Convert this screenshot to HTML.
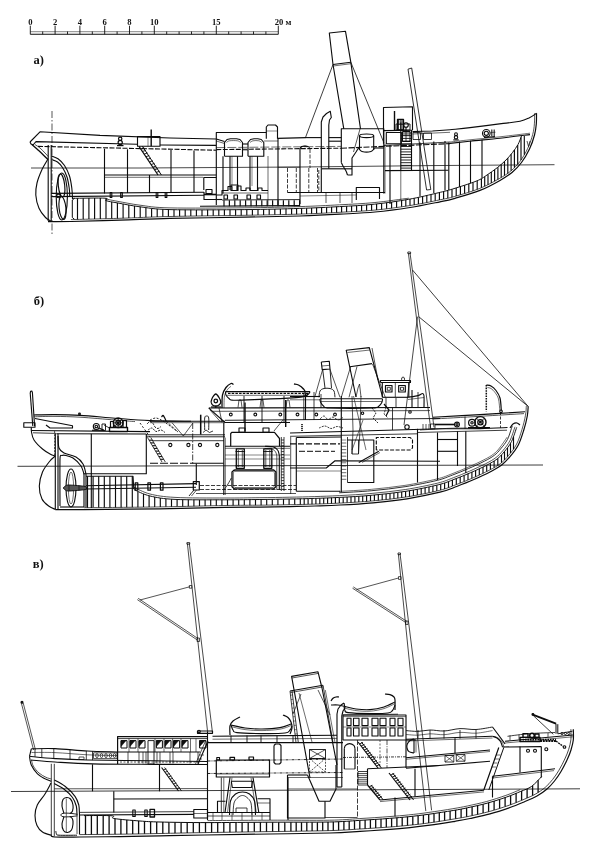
<!DOCTYPE html>
<html lang="ru"><head><meta charset="utf-8"><title>ships</title>
<style>html,body{margin:0;padding:0;background:#fff;}svg{display:block}text{filter:grayscale(1)}</style></head>
<body><svg width="600" height="861" viewBox="0 0 600 861">
<rect x="0" y="0" width="600" height="861" fill="#fff"/>
<g fill="none" stroke="#0c0c0c" stroke-width="1.12" stroke-linecap="butt" stroke-linejoin="round">
<path d="M30.3 34.3L278.3 34.3" stroke-width="1.1"/>
<path d="M30.3 31.7L278.3 31.7" stroke-width="0.5"/>
<path d="M30.3 25.7L30.3 34.3" stroke-width="0.9"/>
<path d="M42.7 31.5L42.7 34.3" stroke-width="0.9"/>
<path d="M55.1 25.7L55.1 34.3" stroke-width="0.9"/>
<path d="M67.5 31.5L67.5 34.3" stroke-width="0.9"/>
<path d="M79.9 25.7L79.9 34.3" stroke-width="0.9"/>
<path d="M92.3 31.5L92.3 34.3" stroke-width="0.9"/>
<path d="M104.7 25.7L104.7 34.3" stroke-width="0.9"/>
<path d="M117.1 31.5L117.1 34.3" stroke-width="0.9"/>
<path d="M129.5 25.7L129.5 34.3" stroke-width="0.9"/>
<path d="M141.9 31.5L141.9 34.3" stroke-width="0.9"/>
<path d="M154.3 25.7L154.3 34.3" stroke-width="0.9"/>
<path d="M166.7 31.5L166.7 34.3" stroke-width="0.9"/>
<path d="M179.1 31.5L179.1 34.3" stroke-width="0.9"/>
<path d="M191.5 31.5L191.5 34.3" stroke-width="0.9"/>
<path d="M203.9 31.5L203.9 34.3" stroke-width="0.9"/>
<path d="M216.3 25.7L216.3 34.3" stroke-width="0.9"/>
<path d="M228.7 31.5L228.7 34.3" stroke-width="0.9"/>
<path d="M241.1 31.5L241.1 34.3" stroke-width="0.9"/>
<path d="M253.5 31.5L253.5 34.3" stroke-width="0.9"/>
<path d="M265.9 31.5L265.9 34.3" stroke-width="0.9"/>
<path d="M278.3 25.7L278.3 34.3" stroke-width="0.9"/>
<text x="30.3" y="25.3" font-family="Liberation Serif, serif" font-size="8.6" font-weight="bold" text-anchor="middle" fill="#111" stroke="none" opacity="0.999">0</text>
<text x="55.1" y="25.3" font-family="Liberation Serif, serif" font-size="8.6" font-weight="bold" text-anchor="middle" fill="#111" stroke="none" opacity="0.999">2</text>
<text x="79.9" y="25.3" font-family="Liberation Serif, serif" font-size="8.6" font-weight="bold" text-anchor="middle" fill="#111" stroke="none" opacity="0.999">4</text>
<text x="104.7" y="25.3" font-family="Liberation Serif, serif" font-size="8.6" font-weight="bold" text-anchor="middle" fill="#111" stroke="none" opacity="0.999">6</text>
<text x="129.5" y="25.3" font-family="Liberation Serif, serif" font-size="8.6" font-weight="bold" text-anchor="middle" fill="#111" stroke="none" opacity="0.999">8</text>
<text x="154.3" y="25.3" font-family="Liberation Serif, serif" font-size="8.6" font-weight="bold" text-anchor="middle" fill="#111" stroke="none" opacity="0.999">10</text>
<text x="216.3" y="25.3" font-family="Liberation Serif, serif" font-size="8.6" font-weight="bold" text-anchor="middle" fill="#111" stroke="none" opacity="0.999">15</text>
<text x="274.8" y="25.3" font-family="Liberation Serif, serif" font-size="8.6" font-weight="bold" text-anchor="start" fill="#111" stroke="none" opacity="0.999">20 м</text>
<text x="38.6" y="63.6" font-family="Liberation Serif, serif" font-size="12.5" font-weight="bold" text-anchor="middle" fill="#111" stroke="none" opacity="0.999">а)</text>
<text x="39" y="304.7" font-family="Liberation Serif, serif" font-size="12.5" font-weight="bold" text-anchor="middle" fill="#111" stroke="none" opacity="0.999">б)</text>
<text x="38.2" y="568.1" font-family="Liberation Serif, serif" font-size="12.5" font-weight="bold" text-anchor="middle" fill="#111" stroke="none" opacity="0.999">в)</text>
<path d="M52.0 111.0L52.0 236.0" stroke-width="0.7" stroke-dasharray="7 2 1.5 2"/>
<path d="M31.0 168.0L140.0 168.0L300.0 167.0L430.0 165.6L554.5 164.7" stroke-width="0.75"/>
<path d="M30.0 142.0L40.0 131.8L100.0 135.4L170.0 138.0L216.0 139.0"/>
<path d="M30.0 142.0L31.0 144.0L33.0 145.0"/>
<path d="M33.0 145.0L36.0 141.6L137.0 144.2"/>
<path d="M160.0 145.0L216.0 145.4"/>
<path d="M38.0 146.4L216.0 150.2" stroke-dasharray="5 1.5"/>
<path d="M32.0 144.5C32.8 145.2 35.1 147.2 37.0 149.0C38.9 150.8 41.5 153.2 43.3 155.0C45.1 156.8 47.2 158.8 48.0 159.5" stroke-width="1.3"/>
<path d="M35.0 144.5C35.8 145.1 38.3 146.6 40.0 148.0C41.7 149.4 43.6 151.6 45.0 153.0C46.4 154.4 47.7 155.9 48.2 156.5" stroke-width="0.7"/>
<path d="M48.2 145.0L48.2 221.0"/>
<path d="M51.2 145.0L51.2 221.0"/>
<path d="M48.0 159.0C47.0 160.8 43.8 165.5 42.0 169.5C40.2 173.5 38.0 178.8 37.0 183.0C36.0 187.2 35.5 190.8 35.8 195.0C36.1 199.2 37.4 204.6 39.0 208.3C40.6 212.1 43.5 215.4 45.5 217.5C47.5 219.6 49.9 220.4 50.8 221.0"/>
<path d="M51.5 159.5C52.5 159.9 55.7 160.7 57.5 162.0C59.3 163.3 60.9 165.0 62.5 167.5C64.1 170.0 65.9 173.6 67.0 177.0C68.1 180.4 68.7 184.7 69.2 188.0C69.7 191.3 69.7 195.5 69.8 197.0"/>
<path d="M51.5 156.0C52.6 156.5 55.8 157.2 58.0 158.8C60.2 160.4 62.6 162.6 64.5 165.5C66.4 168.4 68.3 172.2 69.5 176.0C70.7 179.8 71.3 184.2 71.8 188.0C72.3 191.8 72.4 197.2 72.5 199.0"/>
<ellipse cx="61.8" cy="196.5" rx="5.6" ry="23.5"/>
<ellipse cx="61.5" cy="185.5" rx="3.2" ry="11.5" transform="rotate(-6 61.5 185.5)"/>
<ellipse cx="62.5" cy="208" rx="3.4" ry="11.5" transform="rotate(-6 62.5 208)"/>
<ellipse cx="58.5" cy="196" rx="1.8" ry="1.8"/>
<path d="M51.2 193.4L204.0 192.2"/>
<path d="M51.2 196.6L204.0 195.2"/>
<path d="M110.2 192.5L111.8 192.5L111.8 197.5L110.2 197.5Z"/>
<path d="M120.7 192.5L122.3 192.5L122.3 197.5L120.7 197.5Z"/>
<path d="M156.2 192.5L157.8 192.5L157.8 197.5L156.2 197.5Z"/>
<path d="M165.2 192.5L166.8 192.5L166.8 197.5L165.2 197.5Z"/>
<path d="M48.0 221.6C51.8 221.6 59.0 221.7 71.0 221.5C83.0 221.3 103.5 220.7 120.0 220.2C136.5 219.7 149.2 218.9 170.0 218.4C190.8 217.9 223.3 217.6 245.0 217.2C266.7 216.8 284.2 216.5 300.0 216.0C315.8 215.5 327.5 214.9 340.0 214.2C352.5 213.5 363.3 213.1 375.0 212.0C386.7 210.9 399.2 209.2 410.0 207.5C420.8 205.8 432.5 203.3 440.0 201.8C447.5 200.3 448.3 200.2 455.0 198.3C461.7 196.4 472.5 193.4 480.0 190.4C487.5 187.4 494.7 183.4 500.0 180.4C505.3 177.4 508.4 175.5 512.0 172.5C515.6 169.5 518.6 166.4 521.5 162.5C524.4 158.6 527.3 153.6 529.5 149.0C531.7 144.4 533.4 139.2 534.5 135.0C535.6 130.8 536.0 127.6 536.3 124.0C536.6 120.4 536.5 115.1 536.5 113.3" stroke-width="1.2"/>
<path d="M70.9 219.6C79.1 219.4 103.4 218.8 119.9 218.3C136.4 217.8 149.1 217.0 170.0 216.5C190.8 216.0 223.3 215.7 245.0 215.3C266.6 214.9 284.1 214.6 299.9 214.1C315.8 213.6 327.4 213.0 339.9 212.3C352.4 211.6 363.2 211.2 374.8 210.1C386.5 209.0 398.9 207.3 409.7 205.6C420.5 203.9 432.2 201.5 439.6 199.9C447.1 198.4 447.9 198.4 454.5 196.5C461.1 194.6 471.9 191.6 479.3 188.6C486.7 185.7 493.8 181.7 499.1 178.7C504.3 175.8 507.3 173.9 510.8 171.0C514.3 168.1 517.1 165.2 520.0 161.4C522.8 157.6 525.7 152.7 527.8 148.2C529.9 143.7 531.6 138.6 532.7 134.5C533.8 130.4 534.1 127.4 534.4 123.8C534.7 120.3 534.6 115.0 534.6 113.3" stroke-width="0.7"/>
<path d="M73.0 198.3C78.3 198.3 99.5 197.8 105.0 198.2C110.5 198.6 103.8 199.8 106.0 200.6C108.2 201.4 112.3 202.0 118.0 203.0C123.7 204.0 131.3 205.7 140.0 206.8C148.7 207.9 152.5 209.1 170.0 209.6C187.5 210.1 223.2 209.8 244.9 209.6C266.5 209.4 284.0 208.9 299.8 208.4C315.5 207.9 327.2 207.3 339.6 206.6C352.0 205.9 362.7 205.5 374.3 204.2C385.8 203.0 398.1 201.2 408.7 199.3C419.4 197.4 430.9 194.5 438.2 192.8C445.4 191.1 446.0 191.0 452.4 189.1C458.7 187.1 470.5 183.5 476.3 181.1C482.1 178.8 483.5 177.3 487.0 175.0C490.5 172.7 494.3 170.0 497.5 167.5C500.7 165.0 503.5 162.5 506.0 160.0C508.5 157.5 510.5 155.1 512.5 152.5C514.5 149.9 516.5 147.2 518.0 144.5C519.5 141.8 520.9 137.4 521.5 136.0" stroke-width="0.95"/>
<path d="M106.0 199.0C108.0 199.4 112.3 200.4 118.0 201.4C123.7 202.4 131.3 204.1 140.0 205.2C148.7 206.3 152.5 207.5 170.0 207.9C187.5 208.3 223.2 208.0 244.8 207.8C266.4 207.6 283.9 207.1 299.7 206.6C315.5 206.1 327.1 205.5 339.5 204.8C351.9 204.2 362.6 203.7 374.1 202.6C385.7 201.5 403.0 198.9 408.8 198.2" stroke-width="0.7"/>
<path d="M74.5 198.3L72.3 200.0L72.3 217.5L74.5 219.3" stroke-width="1.0"/>
<path d="M77.5 198.3V219.4M83.2 198.2V219.3M88.9 198.1V219.1M94.6 198.1V219.0M100.3 198.1V218.9M106.0 198.3V218.7M111.7 201.9V218.5M117.4 202.9V218.4M123.1 204.0V218.2M128.8 205.0V218.0M134.5 206.0V217.8M140.2 206.8V217.5M145.9 207.6V217.3M151.6 208.4V217.1M157.2 209.0V216.9M162.8 209.3V216.7M168.4 209.6V216.5M174.0 209.7V216.4M179.6 209.8V216.3M185.2 209.8V216.2M190.8 209.8V216.1M196.4 209.9V216.0M202.0 209.9V215.9M207.6 209.8V215.9M213.2 209.8V215.8M218.8 209.8V215.7M224.4 209.8V215.6M230.0 209.7V215.5M235.6 209.7V215.5M241.2 209.6V215.4M246.8 209.6V215.3M252.4 209.5V215.2M258.0 209.4V215.1M263.6 209.3V215.0M269.2 209.2V214.8M274.8 209.1V214.7M280.4 209.0V214.6M286.0 208.8V214.5M291.6 208.7V214.3M296.6 208.5V214.2M301.6 208.3V214.0M306.6 208.2V213.9M311.6 208.0V213.7M316.6 207.8V213.5M321.6 207.5V213.2M326.6 207.3V213.0M331.6 207.0V212.7M336.6 206.8V212.5M341.6 206.5V212.2M346.6 206.2V212.0M351.6 206.0V211.7M356.6 205.7V211.4M361.6 205.3V211.1M366.6 205.0V210.8M371.6 204.5V210.4M376.6 204.0V209.9M381.6 203.4V209.4M386.6 202.8V208.8M391.6 202.1V208.2M396.6 201.3V207.5M401.6 200.5V206.8M405.8 199.8V206.2M410.0 199.1V205.6M414.2 198.2V204.9M418.4 197.4V204.1M422.6 196.4V203.4M426.8 195.5V202.5M431.0 194.5V201.7M435.2 193.5V200.8M439.4 192.5V200.0M443.6 191.5V199.1M447.8 190.4V198.2M452.0 189.2V197.2M456.2 187.9V196.0M460.4 186.6V194.8M464.6 185.2V193.6M468.8 183.8V192.3M473.0 182.4V190.9M477.2 180.7V189.4M481.4 178.7V187.8M484.7 176.5V186.3M488.0 174.4V184.7M491.3 172.1V183.0M494.6 169.7V181.2M497.9 167.2V179.4M501.2 164.4V177.5M504.5 161.5V175.6M507.8 158.1V173.4M511.1 154.3V170.8M514.4 150.0V167.8M517.7 145.0V164.2M521.0 137.3V159.9M524.3 136.0V154.8" stroke-width="1.15"/>
<path d="M104.5 148.7L104.5 193.5"/>
<path d="M127.5 149.3L127.5 193.0"/>
<path d="M149.5 175.0L149.5 193.0"/>
<path d="M171.0 150.0L171.0 192.5"/>
<path d="M194.0 150.5L194.0 192.3"/>
<path d="M104.5 175.0L216.0 175.0"/>
<path d="M104.5 177.3L203.0 177.3" stroke-width="0.6"/>
<path d="M139.0 146.3L158.0 175.0" stroke-width="1.2"/>
<path d="M142.4 146.3L161.4 175.0" stroke-width="1.0"/>
<path d="M140.7 148.9L144.1 147.7" stroke-width="0.9"/>
<path d="M142.5 151.5L145.9 150.3" stroke-width="0.9"/>
<path d="M144.2 154.1L147.6 152.9" stroke-width="0.9"/>
<path d="M145.9 156.7L149.3 155.5" stroke-width="0.9"/>
<path d="M147.6 159.3L151.0 158.1" stroke-width="0.9"/>
<path d="M149.4 162.0L152.8 160.8" stroke-width="0.9"/>
<path d="M151.1 164.6L154.5 163.4" stroke-width="0.9"/>
<path d="M152.8 167.2L156.2 166.0" stroke-width="0.9"/>
<path d="M154.5 169.8L157.9 168.6" stroke-width="0.9"/>
<path d="M156.3 172.4L159.7 171.2" stroke-width="0.9"/>
<path d="M137.5 136.6L160.0 136.6L160.0 146.3L137.5 146.3Z"/>
<path d="M151.2 129.6L151.2 146.3" stroke-width="1.4"/>
<path d="M148.0 136.6L148.0 146.3" stroke-width="0.5"/>
<ellipse cx="120.2" cy="138.8" rx="1.7" ry="1.7" stroke-width="1.2"/>
<ellipse cx="120.2" cy="142.4" rx="2.1" ry="2.1" stroke-width="1.2"/>
<path d="M117.0 145.6L123.5 145.6" stroke-width="1.2"/>
<path d="M216.3 205.0L216.3 132.5L266.3 132.5"/>
<path d="M266.3 138.8L266.3 127.0L268.0 125.0L275.5 125.0L277.5 127.0L277.5 138.8"/>
<path d="M266.3 131.0L277.5 131.0" stroke-width="0.5"/>
<path d="M277.5 138.4L306.0 137.6"/>
<path d="M306.0 137.6L321.3 137.6"/>
<path d="M216.3 139.0L224.5 141.5"/>
<path d="M216.3 141.0L224.5 143.5" stroke-width="0.6"/>
<path d="M216.3 149.6L341.0 148.2" stroke-dasharray="5 1.5"/>
<path d="M216.3 147.6L341.0 146.4" stroke-width="0.6" stroke-dasharray="9 2"/>
<path d="M224.5 156.3L224.5 142.5L227.0 139.5L230.5 138.8L236.5 138.8L240.0 139.5L242.5 142.5L242.5 156.3L224.5 156.3"/>
<path d="M226.5 142.5C227.0 142.2 227.7 141.1 229.5 140.8C231.3 140.5 235.7 140.5 237.5 140.8C239.3 141.1 240.0 142.2 240.5 142.5" stroke-width="0.6"/>
<path d="M248.0 156.3L248.0 142.5L250.5 139.5L254.0 138.8L257.8 138.8L261.3 139.5L263.8 142.5L263.8 156.3L248.0 156.3"/>
<path d="M250.0 142.5C250.5 142.2 251.5 141.1 253.0 140.8C254.5 140.5 257.3 140.5 258.8 140.8C260.3 141.1 261.3 142.2 261.8 142.5" stroke-width="0.6"/>
<path d="M242.5 144.0L248.0 144.0"/>
<path d="M242.5 150.0L248.0 150.0" stroke-width="0.6"/>
<path d="M263.8 141.0L278.0 141.0" stroke-width="0.6"/>
<path d="M230.0 156.3L230.0 190.0"/>
<path d="M237.5 156.3L237.5 190.0"/>
<path d="M232.0 156.3L232.0 186.0" stroke-width="0.5"/>
<path d="M250.0 156.3L250.0 190.0"/>
<path d="M257.5 156.3L257.5 190.0"/>
<path d="M252.0 156.3L252.0 186.0" stroke-width="0.5"/>
<path d="M216.3 195.0L222.0 195.0L222.0 190.5L228.0 190.5L228.0 186.5L232.0 186.5L232.0 190.5L237.0 190.5L237.0 186.0L241.0 186.0L241.0 190.5L246.0 190.5L246.0 188.0L250.0 188.0L250.0 190.5L258.0 190.5L258.0 188.0L262.0 188.0L262.0 190.5L268.0 190.5"/>
<path d="M222.0 193.0L268.0 193.0" stroke-width="0.6"/>
<path d="M231.0 185.0L238.0 185.0L238.0 190.5L231.0 190.5Z"/>
<path d="M224.0 195.0L227.5 195.0L227.5 199.0L224.0 199.0Z"/>
<path d="M234.0 195.0L237.5 195.0L237.5 199.0L234.0 199.0Z"/>
<path d="M247.0 195.0L250.5 195.0L250.5 199.0L247.0 199.0Z"/>
<path d="M257.0 195.0L260.5 195.0L260.5 199.0L257.0 199.0Z"/>
<path d="M204.0 192.0L204.0 199.5L216.3 199.5"/>
<path d="M206.0 189.5L212.0 189.5L212.0 193.5L206.0 193.5Z"/>
<path d="M204.0 194.5L216.0 194.5" stroke-width="1.6"/>
<path d="M216.3 199.5L222.0 199.5"/>
<path d="M200.0 206.3L300.0 205.6"/>
<path d="M224.0 200.2V206.2M229.4 200.2V206.2M234.8 200.2V206.2M240.2 200.2V206.2M245.6 200.2V206.2M251.0 200.2V206.2M256.4 200.2V206.2M261.8 200.2V206.2M267.2 200.2V206.2M272.6 200.2V206.2M278.0 200.2V206.2M283.4 200.2V206.2M288.8 200.2V206.2M294.2 200.2V206.2M299.6 200.2V206.2" stroke-width="1.2"/>
<path d="M222.0 200.0L300.0 199.6" stroke-width="0.9"/>
<path d="M203.8 190.0L203.8 177.5L216.3 177.5"/>
<path d="M223.0 156.3L223.0 193.5"/>
<path d="M278.0 138.8L278.0 205.0"/>
<path d="M268.0 156.0L268.0 205.0" stroke-width="0.6"/>
<path d="M300.0 204.0L300.0 148.5L301.5 146.5L305.0 146.0L308.0 146.5"/>
<path d="M278.0 167.3L300.0 167.2" stroke-width="0.6"/>
<path d="M287.5 168.0L287.5 192.5" stroke-width="0.8" stroke-dasharray="4 1.5"/>
<path d="M296.3 168.0L296.3 192.5" stroke-width="0.8" stroke-dasharray="4 1.5"/>
<path d="M308.8 168.0L308.8 192.5" stroke-width="0.8" stroke-dasharray="4 1.5"/>
<path d="M317.5 168.0L317.5 192.5" stroke-width="0.8" stroke-dasharray="4 1.5"/>
<path d="M287.5 192.5L321.0 192.5"/>
<path d="M333.0 64.5L305.5 137.5" stroke-width="0.8"/>
<path d="M350.8 62.2L383.8 142.5" stroke-width="0.8"/>
<path d="M343.8 128.8L333.0 64.5L329.3 33.0L345.5 31.3L350.8 62.2L360.5 128.8"/>
<path d="M333.0 64.5L350.8 62.2"/>
<path d="M333.2 66.0L351.0 63.7" stroke-width="0.6"/>
<path d="M321.3 168.8L321.3 122.0L323.0 117.0L326.5 113.5L330.3 111.3L331.3 117.5L329.5 120.0L328.8 125.0L328.8 168.8"/>
<path d="M321.3 168.8L352.0 168.8"/>
<path d="M328.8 137.6L341.3 137.6"/>
<path d="M328.8 141.2L341.3 141.2"/>
<path d="M341.3 162.5L341.3 128.8L383.8 128.8L383.8 193.5"/>
<path d="M341.3 162.5C341.6 163.1 342.2 164.6 343.0 166.0C343.8 167.4 345.2 169.5 346.0 171.0C346.8 172.5 347.2 174.3 347.5 175.0"/>
<path d="M347.5 175.0L352.0 175.0L352.0 158.0L356.0 152.0L358.5 148.0"/>
<path d="M358.5 148.0C359.1 148.6 359.9 150.9 362.0 151.5C364.1 152.1 368.9 152.1 371.0 151.5C373.1 150.9 373.9 148.6 374.5 148.0"/>
<path d="M374.5 148.0L383.8 148.0"/>
<ellipse cx="366.6" cy="135.8" rx="7.1" ry="1.8"/>
<path d="M359.5 135.8L359.5 150.0"/>
<path d="M373.7 135.8L373.7 150.0"/>
<path d="M360.0 129.0L353.5 152.0" stroke-width="0.7"/>
<path d="M300.0 149.0C300.2 148.7 300.2 147.5 301.0 147.0C301.8 146.5 303.7 146.2 305.0 146.2C306.3 146.2 308.2 146.5 309.0 147.0C309.8 147.5 309.8 148.7 310.0 149.0" stroke-width="0.8"/>
<path d="M310.0 149.0L310.0 168.0" stroke-width="0.8" stroke-dasharray="4 1.5"/>
<path d="M318.8 170.0L318.8 192.0" stroke-width="0.8" stroke-dasharray="4 1.5"/>
<path d="M321.3 168.8L321.3 192.5"/>
<path d="M300.0 192.5L385.0 192.5"/>
<path d="M356.3 200.0L356.3 187.5L379.5 187.5L379.5 199.0"/>
<path d="M326.0 192.5L326.0 203.0" stroke-width="0.7"/>
<path d="M340.0 192.5L340.0 203.0" stroke-width="0.7"/>
<path d="M352.0 192.5L352.0 203.0" stroke-width="0.7"/>
<path d="M300.0 196.0L356.0 195.0" stroke-width="0.5"/>
<path d="M341.0 148.2L450.0 143.6" stroke-dasharray="6 1.5"/>
<path d="M383.8 145.5L450.0 142.0" stroke-width="0.8"/>
<path d="M383.5 143.8L383.5 107.5L412.5 106.8L412.5 130.0"/>
<path d="M383.5 130.6L412.5 130.2"/>
<path d="M386.3 132.5L401.3 132.5L401.3 143.8L386.3 143.8Z"/>
<path d="M394.5 111.0L394.5 130.0" stroke-width="1.4"/>
<path d="M397.5 119.5L403.5 119.5L403.5 130.0L397.5 130.0Z" stroke-width="1.3"/>
<path d="M396.0 124.0L410.0 124.0L410.0 130.0L396.0 130.0Z" stroke-width="0.9"/>
<path d="M398.5 119.5L398.5 130.0" stroke-width="0.8"/>
<path d="M402.0 119.5L402.0 130.0" stroke-width="0.8"/>
<path d="M397.5 122.0L403.5 122.0" stroke-width="0.5"/>
<path d="M397.5 124.5L403.5 124.5" stroke-width="0.5"/>
<path d="M400.5 119.5L400.5 130.0" stroke-width="0.5"/>
<ellipse cx="406" cy="125" rx="2.3" ry="2.3"/>
<path d="M406.0 127.0L406.0 131.0"/>
<path d="M400.8 122.5L400.8 170.5"/>
<path d="M411.5 130.0L411.5 170.5"/>
<path d="M400.8 133.0L411.5 133.0" stroke-width="0.9"/>
<path d="M400.8 135.7L411.5 135.7" stroke-width="0.9"/>
<path d="M400.8 138.4L411.5 138.4" stroke-width="0.9"/>
<path d="M400.8 141.1L411.5 141.1" stroke-width="0.9"/>
<path d="M400.8 143.8L411.5 143.8" stroke-width="0.9"/>
<path d="M400.8 146.5L411.5 146.5" stroke-width="0.9"/>
<path d="M400.8 149.2L411.5 149.2" stroke-width="0.9"/>
<path d="M400.8 151.9L411.5 151.9" stroke-width="0.9"/>
<path d="M400.8 154.6L411.5 154.6" stroke-width="0.9"/>
<path d="M400.8 157.3L411.5 157.3" stroke-width="0.9"/>
<path d="M400.8 160.0L411.5 160.0" stroke-width="0.9"/>
<path d="M400.8 162.7L411.5 162.7" stroke-width="0.9"/>
<path d="M400.8 165.4L411.5 165.4" stroke-width="0.9"/>
<path d="M400.8 168.1L411.5 168.1" stroke-width="0.9"/>
<path d="M402.5 131.5L410.0 131.5L410.0 141.5L402.5 141.5Z" stroke-width="1.0"/>
<path d="M402.5 135.0L410.0 135.0" stroke-width="0.8"/>
<path d="M406.0 131.5L406.0 141.5" stroke-width="0.8"/>
<path d="M408.0 69.2L426.6 190.0L430.8 189.5L411.7 68.0L408.0 69.2" stroke-width="0.85"/>
<path d="M412.5 131.6L422.5 131.3L432.5 131.0L450.0 129.8"/>
<path d="M413.0 132.5L420.5 132.5L420.5 139.5L413.0 139.5Z" stroke-width="0.8"/>
<path d="M423.5 133.0L431.5 133.0L431.5 139.5L423.5 139.5Z" stroke-width="0.8"/>
<path d="M412.5 134.0L450.0 132.3" stroke-width="0.6"/>
<path d="M385.0 143.8L385.0 193.5" stroke-width="0.6"/>
<path d="M390.0 145.0L390.0 204.0"/>
<path d="M420.0 142.5L420.0 196.5"/>
<path d="M433.8 141.5L433.8 193.0"/>
<path d="M445.0 141.0L445.0 190.5"/>
<path d="M385.0 170.6L448.3 170.2"/>
<path d="M400.8 170.5L400.8 200.0" stroke-width="0.6"/>
<path d="M450.0 129.8C453.3 129.4 461.1 128.7 470.0 127.6C478.9 126.5 495.0 124.5 503.3 123.4C511.6 122.3 515.7 122.1 520.0 121.2C524.3 120.3 526.2 119.3 529.0 118.0C531.8 116.7 535.2 114.1 536.5 113.3"/>
<path d="M450.0 143.4C453.3 143.0 461.7 142.1 470.0 141.2C478.3 140.3 490.0 139.3 500.0 138.2C510.0 137.1 525.0 135.2 530.0 134.6"/>
<path d="M450.0 142.0C453.3 141.6 461.7 140.7 470.0 139.8C478.3 138.9 490.0 137.9 500.0 136.8C510.0 135.7 525.0 133.8 530.0 133.2" stroke-width="0.6"/>
<path d="M448.8 142.4L448.8 190.1"/>
<path d="M459.5 141.6L459.5 186.9"/>
<path d="M470.5 140.7L470.5 183.2"/>
<path d="M482.0 139.8L482.0 178.3"/>
<ellipse cx="456" cy="134.2" rx="1.4" ry="1.4" stroke-width="1.1"/>
<ellipse cx="456" cy="137.3" rx="1.7" ry="1.7" stroke-width="1.1"/>
<path d="M453.3 139.9L458.7 139.9" stroke-width="1.1"/>
<ellipse cx="486.3" cy="133.3" rx="3.8" ry="3.8"/>
<ellipse cx="486.3" cy="133.3" rx="2.1" ry="2.1"/>
<path d="M484.0 137.5L495.0 136.6" stroke-width="1.2"/>
<path d="M491.5 129.5L491.5 136.0" stroke-width="0.7"/>
<path d="M493.0 129.5L493.0 136.0" stroke-width="0.7"/>
<path d="M494.5 129.5L494.5 136.0" stroke-width="0.7"/>
<path d="M490.5 132.5L495.5 132.2" stroke-width="0.6"/>
<path d="M527.0 141.0L528.5 146.5" stroke-width="0.7"/>
<path d="M528.5 146.5L530.0 141.0" stroke-width="0.7"/>
<path d="M17.5 466.3L543.0 465.0" stroke-width="0.8"/>
<path d="M30.2 393.0L30.6 391.3L31.8 391.0L32.4 392.5L34.6 426.0"/>
<path d="M30.2 393.0L32.8 426.0"/>
<path d="M23.8 422.8L35.0 422.8L35.0 427.2L23.8 427.2Z"/>
<path d="M33.8 415.0C37.3 414.9 47.3 414.5 55.0 414.6C62.7 414.7 70.0 414.8 80.0 415.4C90.0 416.0 103.3 417.3 115.0 418.2C126.7 419.1 137.3 420.1 150.0 420.6C162.7 421.1 184.2 421.2 191.0 421.3"/>
<path d="M33.8 416.8C37.3 416.7 47.3 416.3 55.0 416.4C62.7 416.5 70.0 416.6 80.0 417.2C90.0 417.8 105.8 419.3 115.0 420.0C124.2 420.7 131.7 421.3 135.0 421.6" stroke-width="0.7"/>
<path d="M35.0 418.5L72.5 425.8L72.5 428.0L50.0 428.0L46.0 425.0"/>
<ellipse cx="79.5" cy="414" rx="0.9" ry="0.9"/>
<path d="M31.3 430.5L150.0 431.6" stroke-width="1.2"/>
<path d="M33.0 432.8L56.0 433.4" stroke-width="0.8"/>
<path d="M56.3 433.8L146.3 434.0"/>
<path d="M31.3 427.2C31.3 428.0 31.1 429.9 31.5 432.0C31.9 434.1 32.2 437.2 34.0 440.0C35.8 442.8 39.8 446.7 42.5 449.0C45.2 451.3 47.9 452.8 50.0 454.0C52.1 455.2 54.4 455.7 55.3 456.0"/>
<path d="M55.3 433.8L55.3 509.6"/>
<path d="M58.0 433.8L58.0 509.6"/>
<path d="M54.6 431.0L54.6 455.0" stroke-width="0.7" stroke-dasharray="2 1.2"/>
<path d="M55.3 456.0C54.3 456.9 51.6 458.8 49.5 461.5C47.4 464.2 44.2 467.9 42.5 472.0C40.8 476.1 39.4 481.5 39.3 486.0C39.2 490.5 40.4 495.6 42.0 499.0C43.6 502.4 46.8 504.6 49.0 506.3C51.2 508.0 54.2 508.8 55.3 509.3"/>
<path d="M58.0 436.0C58.2 438.0 58.0 445.2 59.0 448.0C60.0 450.8 61.2 451.5 64.0 453.0C66.8 454.5 72.8 455.2 76.0 457.0C79.2 458.8 81.3 461.2 83.0 464.0C84.7 466.8 85.5 472.3 86.0 474.0"/>
<path d="M86.0 474.0L86.0 507.6"/>
<path d="M60.0 506.0C60.0 500.5 59.8 464.9 60.0 459.0C60.2 453.1 61.3 455.9 62.0 455.5C62.7 455.1 64.7 455.2 66.0 455.5C67.3 455.8 71.2 456.8 73.0 458.0C74.8 459.2 79.7 464.1 81.0 466.0C82.3 467.9 83.7 473.1 84.0 474.0"/>
<path d="M84.0 474.0L84.0 507.0"/>
<path d="M60.0 507.0L84.0 507.0"/>
<ellipse cx="71" cy="488" rx="5" ry="19"/>
<ellipse cx="71" cy="488" rx="2.6" ry="16" stroke-width="0.6"/>
<path d="M63.0 488.0C63.5 487.6 65.0 486.1 66.0 485.6C67.0 485.1 66.7 485.0 69.0 485.0C71.3 485.0 77.2 485.5 80.0 485.8C82.8 486.1 85.0 486.2 86.0 486.8C87.0 487.4 87.0 488.6 86.0 489.2C85.0 489.8 82.8 489.9 80.0 490.2C77.2 490.5 71.3 491.0 69.0 491.0C66.7 491.0 67.0 490.9 66.0 490.4C65.0 489.9 63.5 488.4 63.0 488.0" stroke-width="0.9" fill="#555"/>
<path d="M69.0 485.0L69.0 491.0" stroke-width="0.7"/>
<path d="M79.0 485.6L79.0 490.4" stroke-width="0.7"/>
<path d="M86.0 485.8L196.0 483.6"/>
<path d="M86.0 489.0L196.0 487.2"/>
<path d="M135.2 482.8L137.8 482.8L137.8 490.2L135.2 490.2Z" stroke-width="1.2"/>
<path d="M147.9 482.8L150.5 482.8L150.5 490.2L147.9 490.2Z" stroke-width="1.2"/>
<path d="M160.4 482.8L163.0 482.8L163.0 490.2L160.4 490.2Z" stroke-width="1.2"/>
<path d="M193.3 481.6L199.3 481.6L199.3 490.0L193.3 490.0Z" stroke-width="1.2"/>
<path d="M194.0 490.0L189.0 496.0" stroke-width="0.9"/>
<path d="M196.5 490.0L191.5 496.0" stroke-width="0.7"/>
<path d="M91.3 433.8L91.3 508.0"/>
<path d="M146.3 434.0L146.3 473.8L83.3 473.8"/>
<path d="M55.3 509.6C60.1 509.6 66.5 509.7 84.0 509.6C101.5 509.5 136.5 509.2 160.0 508.8C183.5 508.4 208.3 507.7 225.0 507.4C241.7 507.1 249.2 507.2 260.0 507.1C270.8 507.0 280.8 506.8 290.0 506.6C299.2 506.4 306.7 506.3 315.0 506.0C323.3 505.7 330.3 505.5 340.0 505.0C349.7 504.5 361.8 503.8 373.0 502.8C384.2 501.8 395.8 500.6 407.0 498.8C418.2 497.0 431.7 494.2 440.0 492.2C448.3 490.1 451.1 488.6 456.7 486.5C462.2 484.4 467.8 482.2 473.3 479.8C478.9 477.4 485.3 474.5 490.0 472.0C494.7 469.5 498.4 467.6 501.7 465.0C505.0 462.4 507.2 460.0 510.0 456.7C512.8 453.4 516.0 449.4 518.3 445.0C520.6 440.6 522.3 434.8 523.8 430.0C525.3 425.2 526.6 419.9 527.3 416.0C528.0 412.1 528.1 407.9 528.2 406.3" stroke-width="1.2"/>
<path d="M84.0 507.7C96.6 507.6 136.5 507.3 160.0 506.9C183.5 506.5 208.3 505.8 225.0 505.5C241.6 505.2 249.1 505.3 260.0 505.2C270.8 505.1 280.8 504.9 290.0 504.7C299.1 504.5 306.6 504.4 314.9 504.1C323.3 503.8 330.2 503.6 339.9 503.1C349.5 502.6 361.7 501.9 372.8 500.9C384.0 499.9 395.6 498.7 406.7 496.9C417.8 495.2 431.3 492.4 439.5 490.4C447.8 488.3 450.5 486.8 456.0 484.7C461.5 482.7 467.0 480.5 472.5 478.1C478.1 475.7 484.5 472.7 489.1 470.3C493.8 467.9 497.3 466.0 500.5 463.5C503.8 461.0 505.9 458.7 508.5 455.5C511.2 452.3 514.4 448.5 516.6 444.1C518.9 439.8 520.5 434.2 522.0 429.4C523.5 424.7 524.7 419.5 525.4 415.7C526.2 411.8 526.2 407.7 526.3 406.1" stroke-width="0.7"/>
<path d="M86.0 476.3L133.0 476.3L133.8 489.0"/>
<path d="M133.8 489.5C136.5 490.6 143.1 494.4 150.0 496.0C156.9 497.6 162.5 498.8 175.0 499.4C187.5 500.0 210.8 499.8 224.9 499.8C239.1 499.8 249.1 499.6 259.9 499.5C270.7 499.4 280.7 499.2 289.8 499.0C299.0 498.8 306.5 498.7 314.8 498.4C323.0 498.1 330.0 497.9 339.6 497.4C349.2 496.9 361.3 496.3 372.3 495.2C383.3 494.2 394.8 493.0 405.8 491.3C416.8 489.6 430.1 486.8 438.2 484.8C446.2 482.8 448.7 481.4 454.0 479.4C459.4 477.4 464.9 475.2 470.3 472.8C475.7 470.5 482.0 467.6 486.5 465.3C491.0 462.9 494.1 461.2 497.1 459.0C500.0 456.7 501.7 454.8 504.2 451.8C506.6 448.9 509.5 445.6 511.5 441.5C513.6 437.4 515.8 429.7 516.7 427.4" stroke-width="0.95"/>
<path d="M133.8 487.2C136.5 488.3 143.1 492.3 150.0 494.0C156.9 495.7 162.5 496.7 175.0 497.4C187.5 498.1 210.8 498.0 224.9 498.0C239.1 498.1 249.1 497.8 259.9 497.7C270.7 497.6 280.7 497.4 289.8 497.2C298.9 497.0 306.4 496.9 314.7 496.6C323.0 496.3 329.9 496.1 339.5 495.6C349.1 495.1 361.1 494.5 372.1 493.4C383.1 492.4 394.6 491.2 405.5 489.5C416.5 487.8 429.8 485.0 437.7 483.1C445.7 481.1 448.1 479.7 453.4 477.7C458.7 475.7 464.2 473.5 469.5 471.2C474.9 468.8 481.2 465.9 485.7 463.7C490.1 461.4 493.1 459.7 496.0 457.5C498.8 455.4 500.4 453.5 502.8 450.7C505.1 447.9 507.9 444.7 509.9 440.7C512.0 436.7 514.1 429.1 515.0 426.8" stroke-width="0.7"/>
<path d="M339.2 492.8C344.6 492.5 360.9 491.7 371.9 490.7C382.9 489.6 394.2 488.5 405.1 486.7C416.0 485.0 429.2 482.3 437.1 480.4C445.0 478.4 447.2 477.0 452.4 475.1C457.7 473.1 463.1 470.9 468.4 468.6C473.7 466.3 480.1 463.4 484.4 461.2C488.7 459.0 491.6 457.4 494.3 455.3C497.0 453.3 498.4 451.6 500.6 448.9C502.8 446.3 505.5 443.2 507.5 439.4C509.4 435.5 511.5 428.1 512.3 425.8" stroke-width="0.85"/>
<path d="M339.1 491.4C344.5 491.1 360.8 490.3 371.7 489.3C382.7 488.2 394.0 487.1 404.9 485.4C415.7 483.7 428.9 480.9 436.7 479.0C444.6 477.1 446.8 475.7 452.0 473.8C457.1 471.8 462.6 469.6 467.9 467.3C473.2 465.0 479.5 462.1 483.7 459.9C488.0 457.8 490.8 456.2 493.4 454.2C496.1 452.2 497.2 450.9 499.5 448.0C501.8 445.2 505.9 438.9 507.2 437.1" stroke-width="0.6"/>
<path d="M87.5 476.3V507.7M93.1 476.3V507.6M98.7 476.3V507.6M104.3 476.3V507.5M109.9 476.3V507.5M115.5 476.3V507.4M121.1 476.3V507.4M126.7 476.3V507.3M132.3 476.3V507.2M137.9 491.4V507.2M143.5 493.9V507.1M149.1 495.8V507.1M154.7 497.1V507.0M160.3 498.1V506.9M165.9 498.7V506.8M171.5 499.2V506.7M177.1 499.5V506.6M182.7 499.7V506.5M188.3 499.8V506.3M193.9 499.8V506.2M199.5 499.8V506.1M205.1 499.8V505.9M210.7 499.8V505.8M216.3 499.8V505.7M221.9 499.8V505.6M227.5 499.8V505.5M233.1 499.8V505.4M238.7 499.8V505.3M244.3 499.7V505.3M249.9 499.6V505.3M255.5 499.6V505.2M261.1 499.5V505.2M266.7 499.4V505.1M272.3 499.3V505.0M277.9 499.2V504.9M283.5 499.1V504.8M289.1 499.0V504.7M294.7 498.9V504.6M300.3 498.8V504.5M304.2 498.7V504.4M308.1 498.6V504.3M312.0 498.5V504.2M315.9 498.4V504.1M319.8 498.2V503.9M323.7 498.1V503.8M327.6 498.0V503.7M331.5 497.8V503.5M335.4 497.6V503.3M339.3 497.4V503.1M343.2 497.2V502.9M347.1 497.0V502.7M351.0 496.8V502.5M354.9 496.5V502.2M358.8 496.3V502.0M362.7 496.0V501.7M366.6 495.7V501.4M370.5 495.4V501.1M374.4 495.0V500.8M378.3 494.7V500.4M382.2 494.3V500.0M386.1 493.9V499.6M390.0 493.4V499.2M393.9 493.0V498.7M397.8 492.5V498.2M401.7 491.9V497.7M405.6 491.3V497.1M409.5 490.7V496.5M413.4 490.0V495.8M417.3 489.3V495.1M421.2 488.5V494.3M425.1 487.7V493.6M429.0 486.9V492.8M432.9 486.1V491.9M436.8 485.2V491.0M440.7 484.2V490.1M444.6 483.0V489.0M448.5 481.6V487.7M452.4 480.0V486.1M456.3 478.5V484.6M460.2 477.0V483.1M464.1 475.4V481.6M468.0 473.8V480.0M471.9 472.1V478.3M475.6 470.5V476.7M479.3 468.8V475.0M483.0 467.0V473.3M486.7 465.2V471.5M490.4 463.2V469.6M494.1 461.0V467.6M497.8 458.4V465.4M501.5 454.9V462.7M504.5 451.4V460.0M507.5 447.7V456.7M510.5 443.4V453.1M513.5 436.9V449.2" stroke-width="1.15"/>
<ellipse cx="96.3" cy="426.5" rx="3" ry="3"/>
<ellipse cx="96.3" cy="426.5" rx="1.3" ry="1.3"/>
<path d="M92.0 430.3L104.0 430.3"/>
<path d="M99.0 428.0L104.0 430.3"/>
<path d="M109.5 427.5L127.5 427.5L127.5 431.6L109.5 431.6Z" stroke-width="1.4"/>
<ellipse cx="118.2" cy="422.8" rx="4.8" ry="4.8" stroke-width="1.5"/>
<ellipse cx="118.2" cy="422.8" rx="2.4" ry="2.4" stroke-width="1.2"/>
<ellipse cx="118.2" cy="422.8" rx="0.8" ry="0.8" stroke-width="1.2"/>
<path d="M113.5 422.8L123.0 422.8" stroke-width="0.8"/>
<path d="M118.2 418.0L118.2 427.5" stroke-width="0.8"/>
<path d="M115.0 419.5L121.5 426.0" stroke-width="0.7"/>
<path d="M121.5 419.5L115.0 426.0" stroke-width="0.7"/>
<path d="M110.5 421.5L113.5 421.5L113.5 427.5L110.5 427.5Z" stroke-width="1.2"/>
<path d="M123.0 420.5L126.5 420.5L126.5 427.5L123.0 427.5Z" stroke-width="1.2"/>
<path d="M104.0 425.0L109.5 428.0" stroke-width="0.8"/>
<path d="M102.0 424.0L105.5 424.0L105.5 430.5L102.0 430.5Z" stroke-width="0.9"/>
<path d="M147.5 437.5L162.0 462.0" stroke-width="0.8"/>
<path d="M150.8 437.5L165.3 462.0" stroke-width="0.8"/>
<path d="M149.1 440.2L152.4 440.2" stroke-width="1.1"/>
<path d="M150.7 442.9L154.0 442.9" stroke-width="1.1"/>
<path d="M152.3 445.7L155.6 445.7" stroke-width="1.1"/>
<path d="M153.9 448.4L157.2 448.4" stroke-width="1.1"/>
<path d="M155.6 451.1L158.9 451.1" stroke-width="1.1"/>
<path d="M157.2 453.8L160.5 453.8" stroke-width="1.1"/>
<path d="M158.8 456.6L162.1 456.6" stroke-width="1.1"/>
<path d="M160.4 459.3L163.7 459.3" stroke-width="1.1"/>
<path d="M140.0 423.0L150.0 437.0" stroke-width="0.9" stroke-dasharray="2 2"/>
<path d="M147.0 424.0C147.5 423.6 149.0 421.6 150.0 421.5C151.0 421.4 152.2 422.6 153.0 423.5C153.8 424.4 154.2 426.2 155.0 427.0C155.8 427.8 157.0 428.6 158.0 428.5C159.0 428.4 160.5 426.8 161.0 426.5" stroke-width="0.9" stroke-dasharray="2.5 1"/>
<path d="M148.0 430.0C148.7 429.7 150.7 427.8 152.0 428.0C153.3 428.2 154.5 431.2 156.0 431.5C157.5 431.8 159.5 429.8 161.0 430.0C162.5 430.2 164.3 432.1 165.0 432.5" stroke-width="0.9" stroke-dasharray="2 1"/>
<path d="M161.5 417.0C161.8 416.8 162.5 415.4 163.0 415.5C163.5 415.6 164.0 416.6 164.5 417.5C165.0 418.4 165.8 420.4 166.0 421.0" stroke-width="1.3"/>
<path d="M166.0 421.0L178.0 432.0" stroke-width="0.7" stroke-dasharray="3 1"/>
<path d="M150.0 420.0C151.0 419.7 153.8 417.8 156.0 418.0C158.2 418.2 160.7 419.7 163.0 421.0C165.3 422.3 167.5 424.2 170.0 426.0C172.5 427.8 176.7 431.0 178.0 432.0" stroke-width="0.9" stroke-dasharray="2 1.5"/>
<path d="M146.0 434.8L225.0 434.8" stroke-width="0.9"/>
<path d="M146.0 436.8L225.0 436.8" stroke-width="0.9"/>
<path d="M152.0 440.7L224.0 440.7" stroke-width="0.8"/>
<path d="M150.0 421.3L225.0 421.3"/>
<path d="M150.0 422.7L225.0 422.7" stroke-width="0.6"/>
<path d="M150.0 463.3L191.0 463.3" stroke-dasharray="8 2"/>
<path d="M191.0 463.3L223.8 463.3"/>
<path d="M192.7 423.0L192.7 463.5" stroke-width="0.8" stroke-dasharray="6 1.5 1.5 1.5"/>
<path d="M196.3 463.5L196.3 485.0"/>
<ellipse cx="170.3" cy="445" rx="1.6" ry="1.6"/>
<ellipse cx="188.4" cy="445" rx="1.6" ry="1.6"/>
<ellipse cx="200" cy="445" rx="1.6" ry="1.6"/>
<ellipse cx="217.3" cy="445" rx="1.6" ry="1.6"/>
<path d="M172.0 422.7L183.3 436.0" stroke-width="0.7"/>
<path d="M192.7 423.3L183.3 436.0" stroke-width="0.7"/>
<path d="M200.7 414.7L200.7 434.5" stroke-width="1.5"/>
<path d="M204.7 430.0C204.7 428.0 204.4 420.3 204.7 418.0C205.0 415.7 206.0 416.0 206.7 416.0C207.4 416.0 208.4 415.7 208.7 418.0C209.0 420.3 208.7 428.0 208.7 430.0" stroke-width="0.9"/>
<path d="M203.0 432.5L206.0 430.0L209.5 432.5L213.0 431.0" stroke-width="0.8"/>
<path d="M210.0 410.0L220.0 421.3" stroke-width="0.7"/>
<path d="M223.8 422.5L223.8 495.0"/>
<path d="M225.3 437.6L225.3 495.0" stroke-width="0.6"/>
<path d="M208.8 408.0L212.5 411.3L225.0 422.5"/>
<path d="M219.0 408.0L222.0 422.5" stroke-width="0.7"/>
<path d="M211.0 402.0C211.2 401.2 211.7 398.8 212.5 397.5C213.3 396.2 214.7 394.0 215.8 394.0C216.9 394.0 218.2 396.2 219.0 397.5C219.8 398.8 220.8 400.8 220.8 402.0C220.8 403.2 219.8 404.3 219.0 405.0C218.2 405.7 216.9 406.0 215.8 406.0C214.7 406.0 213.3 405.7 212.5 405.0C211.7 404.3 211.2 402.5 211.0 402.0" stroke-width="1.3"/>
<ellipse cx="215.8" cy="401" rx="1.8" ry="1.8" stroke-width="1.3"/>
<path d="M215.8 406.0L215.8 408.0"/>
<path d="M211.0 407.0L221.0 407.0" stroke-width="1.2"/>
<path d="M208.8 408.0L430.0 407.5"/>
<path d="M212.5 411.3L430.0 410.6" stroke-width="0.7"/>
<path d="M225.5 391.6C225.6 392.2 225.4 393.9 226.0 395.0C226.6 396.1 227.7 397.6 229.0 398.5C230.3 399.4 228.8 400.1 234.0 400.2C239.2 400.3 249.7 399.8 260.0 399.4C270.3 399.0 288.7 398.1 296.0 397.6C303.3 397.1 301.9 396.9 304.0 396.3C306.1 395.7 307.5 394.8 308.5 394.0C309.5 393.2 309.8 392.0 310.0 391.6"/>
<path d="M225.5 391.6L310.0 391.6" stroke-width="1.2"/>
<path d="M227.0 395.3L308.0 395.3" stroke-width="0.6"/>
<path d="M228.0 393.3L308.0 393.3" stroke-width="1.2" stroke-dasharray="2.5 1.2"/>
<path d="M238.0 407.5L239.0 400.0L241.0 400.0L242.0 407.5" stroke-width="0.7"/>
<path d="M260.0 407.5L261.0 400.0L263.0 400.0L264.0 407.5" stroke-width="0.7"/>
<path d="M286.0 407.5L287.0 400.0L289.0 400.0L290.0 407.5" stroke-width="0.7"/>
<path d="M222.0 408.0C222.1 405.8 221.8 398.4 222.5 395.0C223.2 391.6 224.6 389.4 226.0 387.5C227.4 385.6 229.8 384.0 231.0 383.5C232.2 383.0 233.1 384.3 233.5 384.5" stroke-width="1.3"/>
<path d="M224.0 408.0C224.1 406.0 223.9 399.1 224.5 396.0C225.1 392.9 226.4 391.1 227.5 389.5C228.6 387.9 230.4 386.8 231.0 386.3" stroke-width="0.6"/>
<path d="M294.0 384.0C294.8 384.2 297.0 384.2 298.5 385.0C300.0 385.8 301.9 387.0 303.0 388.5C304.1 390.0 304.9 388.8 305.3 394.0C305.7 399.2 305.3 415.7 305.3 420.0" stroke-width="1.3"/>
<path d="M303.6 394.0L303.6 420.0" stroke-width="0.6"/>
<ellipse cx="230.8" cy="414.5" rx="1.4" ry="1.4"/>
<ellipse cx="255.3" cy="414.5" rx="1.4" ry="1.4"/>
<ellipse cx="280.3" cy="414.5" rx="1.4" ry="1.4"/>
<ellipse cx="297.5" cy="414.5" rx="1.4" ry="1.4"/>
<ellipse cx="316.3" cy="414.5" rx="1.4" ry="1.4"/>
<ellipse cx="335" cy="414.5" rx="1.4" ry="1.4"/>
<ellipse cx="362.5" cy="413.3" rx="1.25" ry="1.25"/>
<ellipse cx="410" cy="412" rx="1.25" ry="1.25"/>
<path d="M225.0 420.3L440.0 418.5" stroke-width="0.9"/>
<path d="M225.0 422.5L290.0 422.5"/>
<path d="M244.0 396.0L244.0 422.0" stroke-width="0.9"/>
<path d="M262.0 396.0L262.0 422.0" stroke-width="0.9"/>
<path d="M284.0 396.0L284.0 422.0" stroke-width="0.9"/>
<path d="M245.0 402.5L245.0 431.5" stroke-width="1.4"/>
<path d="M285.7 400.0L285.7 427.0" stroke-width="1.4"/>
<path d="M283.0 420.0L278.0 426.0L274.0 431.0" stroke-width="0.7"/>
<path d="M320.0 419.0C320.7 418.5 322.7 415.9 324.0 416.0C325.3 416.1 326.5 419.3 328.0 419.5C329.5 419.7 331.3 416.9 333.0 417.0C334.7 417.1 336.3 419.9 338.0 420.0C339.7 420.1 342.2 417.9 343.0 417.5" stroke-width="0.8" stroke-dasharray="2.5 1.2"/>
<path d="M319.0 428.0C320.0 427.7 323.0 425.9 325.0 426.0C327.0 426.1 329.0 428.4 331.0 428.5C333.0 428.6 335.0 426.6 337.0 426.5C339.0 426.4 342.0 427.8 343.0 428.0" stroke-width="0.8" stroke-dasharray="2 1"/>
<path d="M372.0 408.0L376.0 413.0L373.0 418.0L378.0 423.0" stroke-width="0.9" stroke-dasharray="2 1"/>
<path d="M384.0 404.0L389.0 410.0L386.0 416.0" stroke-width="1.2"/>
<path d="M302.0 424.0L302.0 431.0" stroke-width="1.6" stroke-dasharray="1.2 0.8"/>
<path d="M230.7 446.3L230.7 433.5L232.0 432.3L274.5 432.3L279.5 438.5L279.5 446.3" stroke-width="1.2"/>
<path d="M239.0 428.0L245.0 428.0L245.0 432.3L239.0 432.3Z" stroke-width="1.1"/>
<path d="M263.0 428.0L269.0 428.0L269.0 432.3L263.0 432.3Z" stroke-width="1.1"/>
<path d="M225.0 446.3L290.0 446.3"/>
<path d="M225.0 448.3L290.0 448.3" stroke-width="0.6"/>
<path d="M236.3 448.8L244.3 448.8L244.3 468.3L236.3 468.3Z" stroke-width="1.3"/>
<path d="M238.3 450.0L238.3 467.0" stroke-width="0.7"/>
<path d="M242.3 450.0L242.3 467.0" stroke-width="0.7"/>
<path d="M235.5 451.5L245.1 451.5" stroke-width="0.9"/>
<path d="M235.5 465.8L245.1 465.8" stroke-width="0.9"/>
<path d="M263.8 448.8L271.8 448.8L271.8 468.3L263.8 468.3Z" stroke-width="1.3"/>
<path d="M265.8 450.0L265.8 467.0" stroke-width="0.7"/>
<path d="M269.8 450.0L269.8 467.0" stroke-width="0.7"/>
<path d="M263.0 451.5L272.6 451.5" stroke-width="0.9"/>
<path d="M263.0 465.8L272.6 465.8" stroke-width="0.9"/>
<path d="M265.0 446.3C266.3 446.4 270.9 446.2 273.0 446.8C275.1 447.4 276.6 448.6 277.6 450.0C278.7 451.4 279.0 454.2 279.3 455.0"/>
<path d="M279.3 455.0L279.3 490.0"/>
<path d="M265.0 448.6C266.2 448.7 270.2 448.4 272.0 449.0C273.8 449.6 274.8 450.8 275.6 452.0C276.4 453.2 276.6 455.3 276.8 456.0" stroke-width="0.7"/>
<path d="M276.8 456.0L276.8 490.0" stroke-width="0.7"/>
<path d="M281.3 437.0L281.3 491.0" stroke-width="0.8"/>
<path d="M284.0 437.0L284.0 491.0" stroke-width="0.8"/>
<path d="M281.3 440.0L284.0 440.0" stroke-width="0.8"/>
<path d="M281.3 442.9L284.0 442.9" stroke-width="0.8"/>
<path d="M281.3 445.8L284.0 445.8" stroke-width="0.8"/>
<path d="M281.3 448.7L284.0 448.7" stroke-width="0.8"/>
<path d="M281.3 451.6L284.0 451.6" stroke-width="0.8"/>
<path d="M281.3 454.5L284.0 454.5" stroke-width="0.8"/>
<path d="M281.3 457.4L284.0 457.4" stroke-width="0.8"/>
<path d="M281.3 460.3L284.0 460.3" stroke-width="0.8"/>
<path d="M281.3 463.2L284.0 463.2" stroke-width="0.8"/>
<path d="M281.3 466.1L284.0 466.1" stroke-width="0.8"/>
<path d="M281.3 469.0L284.0 469.0" stroke-width="0.8"/>
<path d="M281.3 471.9L284.0 471.9" stroke-width="0.8"/>
<path d="M281.3 474.8L284.0 474.8" stroke-width="0.8"/>
<path d="M281.3 477.7L284.0 477.7" stroke-width="0.8"/>
<path d="M281.3 480.6L284.0 480.6" stroke-width="0.8"/>
<path d="M281.3 483.5L284.0 483.5" stroke-width="0.8"/>
<path d="M281.3 486.4L284.0 486.4" stroke-width="0.8"/>
<path d="M281.3 489.3L284.0 489.3" stroke-width="0.8"/>
<path d="M290.7 437.0L290.7 494.0" stroke-width="0.7"/>
<path d="M225.0 455.0L290.0 455.0" stroke-width="0.5"/>
<path d="M225.0 459.0L290.0 459.0" stroke-width="0.5"/>
<path d="M234.2 470.0L273.7 470.0L275.9 472.0L275.9 486.8L273.7 488.8L234.2 488.8L232.0 486.8L232.0 472.0L234.2 470.0" stroke-width="1.3"/>
<path d="M234.8 471.3L273.0 471.3L274.6 472.8L274.6 486.0L273.0 487.5L234.8 487.5L233.3 486.0L233.3 472.8L234.8 471.3" stroke-width="0.6"/>
<path d="M200.0 485.5L296.0 485.5" stroke-width="0.8" stroke-dasharray="4 1.5"/>
<path d="M200.0 489.5L296.0 489.5" stroke-width="0.8" stroke-dasharray="4 1.5"/>
<path d="M223.8 490.0C224.5 489.0 226.8 486.0 228.0 484.0C229.2 482.0 230.8 479.0 231.3 478.0" stroke-width="0.8"/>
<path d="M196.0 493.5L296.0 493.5" stroke-width="0.7"/>
<path d="M290.0 433.0L440.0 428.8"/>
<path d="M290.0 436.3L417.5 433.8" stroke-width="0.8"/>
<path d="M296.3 437.5L296.3 491.3"/>
<path d="M296.3 491.3L340.0 491.3"/>
<path d="M290.0 443.8L340.0 443.8" stroke-width="1.2" stroke-dasharray="6 2"/>
<path d="M299.0 451.3L335.0 451.3" stroke-width="1.0" stroke-dasharray="6 2"/>
<path d="M296.3 437.5L341.0 437.0"/>
<path d="M290.0 468.0L326.3 468.0L335.0 460.8L440.0 461.3"/>
<path d="M296.3 471.0L341.0 471.0" stroke-width="0.5"/>
<path d="M341.3 396.0L341.3 492.5"/>
<path d="M347.5 437.0L347.5 482.5" stroke-width="0.8"/>
<path d="M341.3 440.0L346.3 440.0" stroke-width="0.5"/>
<path d="M341.3 443.0L346.3 443.0" stroke-width="0.6"/>
<path d="M341.3 446.3L346.3 446.3" stroke-width="0.6"/>
<path d="M341.3 449.6L346.3 449.6" stroke-width="0.6"/>
<path d="M341.3 452.9L346.3 452.9" stroke-width="0.6"/>
<path d="M341.3 456.2L346.3 456.2" stroke-width="0.6"/>
<path d="M341.3 459.5L346.3 459.5" stroke-width="0.6"/>
<path d="M341.3 462.8L346.3 462.8" stroke-width="0.6"/>
<path d="M341.3 466.1L346.3 466.1" stroke-width="0.6"/>
<path d="M341.3 469.4L346.3 469.4" stroke-width="0.6"/>
<path d="M341.3 472.7L346.3 472.7" stroke-width="0.6"/>
<path d="M341.3 476.0L346.3 476.0" stroke-width="0.6"/>
<path d="M341.3 479.3L346.3 479.3" stroke-width="0.6"/>
<path d="M347.5 440.0L373.8 440.0L373.8 482.5L347.5 482.5"/>
<path d="M352.0 440.0L352.0 454.0L358.5 454.0L358.5 440.0" stroke-width="0.8"/>
<path d="M358.8 462.5L378.8 451.3"/>
<path d="M362.0 462.5L380.0 452.5" stroke-width="0.6"/>
<path d="M376.3 450.0L376.3 437.5L410.0 437.5L412.5 439.5L412.5 448.0L410.0 450.0L376.3 450.0" stroke-dasharray="4 1.5"/>
<path d="M417.5 428.8L417.5 482.5"/>
<path d="M392.5 407.5L392.5 430.0" stroke-width="0.8"/>
<ellipse cx="407" cy="427" rx="2.2" ry="2.2"/>
<path d="M352.0 396.0L353.0 430.0L352.0 454.0" stroke-width="0.7"/>
<path d="M361.0 396.0L360.0 430.0L358.5 454.0" stroke-width="0.7"/>
<path d="M353.5 396.0L366.0 450.0" stroke-width="0.6"/>
<path d="M363.0 420.0L352.0 450.0" stroke-width="0.6"/>
<path d="M320.0 398.8C320.1 399.3 319.9 400.8 320.5 402.0C321.1 403.2 321.9 405.0 323.5 406.0C325.1 407.0 321.9 407.7 330.0 408.0C338.1 408.3 363.8 408.3 372.0 408.0C380.2 407.7 377.3 407.0 379.0 406.0C380.7 405.0 381.4 403.2 382.0 402.0C382.6 400.8 382.4 399.3 382.5 398.8"/>
<path d="M320.0 398.8L382.5 398.8"/>
<path d="M321.0 401.5L382.0 401.5" stroke-width="0.6"/>
<path d="M290.0 396.5L320.0 396.5"/>
<path d="M290.0 399.8L320.0 399.8" stroke-width="0.6"/>
<path d="M314.0 392.0L314.0 420.0" stroke-width="0.8"/>
<path d="M321.0 394.0L321.0 408.0" stroke-width="0.8"/>
<path d="M356.0 397.0L346.2 350.2L369.3 347.6L382.7 397.3"/>
<path d="M372.0 348.0L378.0 380.0" stroke-width="0.7"/>
<path d="M349.9 366.7L372.0 363.6"/>
<path d="M347.5 352.5L370.0 350.0" stroke-width="0.6"/>
<path d="M350.5 367.0L341.3 397.3" stroke-width="0.7"/>
<path d="M357.0 366.5L349.0 397.3" stroke-width="0.7"/>
<path d="M372.5 364.0L385.3 397.3" stroke-width="0.7"/>
<path d="M356.0 397.0L358.0 388.0L359.5 384.0L361.0 397.0" stroke-width="0.7"/>
<path d="M321.3 362.0L329.3 361.3L330.0 369.0L322.2 369.6L321.3 362.0"/>
<path d="M321.8 366.0L329.8 365.3" stroke-width="0.6"/>
<path d="M322.7 369.6L325.0 388.0" stroke-width="0.9"/>
<path d="M330.0 369.0L331.5 388.0" stroke-width="0.9"/>
<path d="M319.0 397.3C319.2 396.2 319.2 392.5 320.0 391.0C320.8 389.5 322.3 388.9 324.0 388.5C325.7 388.1 328.3 388.1 330.0 388.5C331.7 388.9 333.2 389.5 334.0 391.0C334.8 392.5 334.8 396.2 335.0 397.3" stroke-width="0.9"/>
<path d="M322.5 370.0L314.7 397.3" stroke-width="0.7"/>
<path d="M330.0 369.5L340.0 397.3" stroke-width="0.7"/>
<path d="M380.5 382.5L380.5 380.5L410.5 380.5L410.5 382.5L380.5 382.5"/>
<path d="M382.3 382.5L382.3 397.3"/>
<path d="M408.8 382.5L408.8 397.3"/>
<path d="M385.5 385.5L392.0 385.5L392.0 392.0L385.5 392.0Z" stroke-width="1.2"/>
<path d="M398.7 385.5L405.3 385.5L405.3 392.0L398.7 392.0Z" stroke-width="1.2"/>
<path d="M387.3 387.3L390.3 387.3L390.3 390.3L387.3 390.3Z" stroke-width="0.8"/>
<path d="M400.5 387.3L403.5 387.3L403.5 390.3L400.5 390.3Z" stroke-width="0.8"/>
<path d="M395.3 382.5L395.3 397.0" stroke-width="0.7"/>
<path d="M401.5 380.5C401.6 380.1 401.6 378.6 401.8 378.0C402.1 377.4 402.6 377.0 403.0 377.0C403.4 377.0 404.1 377.4 404.3 378.0C404.6 378.6 404.5 380.1 404.5 380.5" stroke-width="0.9"/>
<path d="M382.5 397.3L408.0 397.3"/>
<path d="M408.0 397.3C409.7 397.0 415.6 396.2 418.0 395.6C420.4 395.0 421.5 393.4 422.5 393.5C423.5 393.6 423.8 393.7 424.0 396.0C424.2 398.3 424.0 405.6 424.0 407.5"/>
<path d="M408.0 399.5L424.0 397.5" stroke-width="0.6"/>
<path d="M412.0 390.0L412.0 407.5" stroke-width="1.1"/>
<path d="M418.0 392.0L418.0 407.5" stroke-width="0.8"/>
<path d="M386.0 398.0L386.0 407.5" stroke-width="0.8"/>
<path d="M396.0 398.0L396.0 407.5" stroke-width="0.8"/>
<path d="M386.0 407.5L384.0 414.0L388.0 418.0" stroke-width="0.8" stroke-dasharray="2 1"/>
<path d="M408.4 253.3L423.0 370.0L430.6 427.6" stroke-width="0.75"/>
<path d="M410.0 253.0L426.3 370.0L434.0 427.3" stroke-width="0.75"/>
<path d="M407.8 252.0L410.6 252.0L410.6 253.6L407.8 253.6Z" stroke-width="0.8"/>
<path d="M412.5 270.0L528.0 406.3" stroke-width="0.8"/>
<path d="M418.7 316.7L528.0 406.3" stroke-width="0.8"/>
<path d="M417.5 316.7L404.0 425.0" stroke-width="0.75"/>
<path d="M433.0 417.3C440.8 416.9 464.7 415.5 480.0 414.6C495.3 413.7 517.5 412.3 525.0 411.8"/>
<path d="M433.0 419.0C440.8 418.6 464.8 417.2 480.0 416.3C495.2 415.4 516.7 414.1 524.0 413.6" stroke-width="0.7"/>
<path d="M465.0 416.5L465.0 429.0" stroke-width="0.8"/>
<path d="M440.0 428.8C446.7 428.8 468.8 428.8 480.0 428.6C491.2 428.4 502.9 427.7 507.5 427.5"/>
<path d="M420.0 430.0C425.0 429.7 442.1 428.6 450.0 428.3C457.9 428.0 464.6 428.1 467.5 428.0" stroke-width="0.7"/>
<path d="M437.5 432.5L437.5 480.0"/>
<path d="M457.5 431.3L457.5 466.0"/>
<path d="M465.8 431.3L465.8 473.0"/>
<path d="M437.5 439.5L457.5 439.5"/>
<path d="M437.5 451.3L457.5 451.3"/>
<path d="M417.5 432.5L507.0 430.2" stroke-width="0.8"/>
<path d="M423.0 424.0L423.0 429.5" stroke-width="0.7"/>
<path d="M426.0 424.0L426.0 429.5" stroke-width="0.7"/>
<path d="M429.0 424.0L429.0 429.5" stroke-width="0.7"/>
<path d="M430.5 424.0L435.0 424.0L435.0 428.8L430.5 428.8Z" stroke-width="0.8"/>
<ellipse cx="480.4" cy="422.2" rx="5.6" ry="5.6" stroke-width="1.4"/>
<ellipse cx="480.4" cy="422.2" rx="2.6" ry="2.6" stroke-width="1.3"/>
<ellipse cx="480.4" cy="422.2" rx="0.8" ry="0.8" stroke-width="1.2"/>
<path d="M476.5 418.3L484.3 426.1" stroke-width="0.7"/>
<path d="M484.3 418.3L476.5 426.1" stroke-width="0.7"/>
<ellipse cx="472" cy="422.8" rx="3.4" ry="3.4" stroke-width="1.2"/>
<ellipse cx="472" cy="422.8" rx="1.2" ry="1.2"/>
<ellipse cx="457" cy="424.5" rx="2.4" ry="2.4"/>
<ellipse cx="457" cy="424.5" rx="1" ry="1"/>
<path d="M435.0 424.5L455.0 424.5" stroke-width="1.6"/>
<path d="M468.0 427.8L490.0 427.6" stroke-width="1.4"/>
<path d="M486.3 385.0C487.1 385.2 489.4 385.1 491.0 386.0C492.6 386.9 494.5 388.5 496.0 390.5C497.5 392.5 499.1 394.7 500.0 398.0C500.9 401.3 501.1 408.4 501.3 410.5" stroke-width="1.2"/>
<path d="M487.5 387.5C488.1 387.7 489.8 387.7 491.0 388.5C492.2 389.3 493.8 390.8 495.0 392.5C496.2 394.2 497.7 396.0 498.5 399.0C499.3 402.0 499.6 408.6 499.8 410.5" stroke-width="0.6"/>
<path d="M486.3 385.0L486.3 411.3" stroke-width="1.5" stroke-dasharray="1.6 1"/>
<path d="M500.5 412.0L500.5 428.0" stroke-width="0.8" stroke-dasharray="3 1.5"/>
<ellipse cx="501" cy="411.3" rx="1.3" ry="1.3"/>
<path d="M510.0 428.0C510.5 427.3 511.8 424.8 513.0 424.0C514.2 423.2 515.8 422.8 517.0 423.0C518.2 423.2 519.5 424.7 520.0 425.0" stroke-width="1.2"/>
<path d="M11.0 791.5L580.0 788.8" stroke-width="0.8"/>
<path d="M21.4 703.3L33.6 750.0" stroke-width="0.7"/>
<path d="M23.2 703.0L35.4 749.6" stroke-width="0.7"/>
<ellipse cx="22" cy="702.3" rx="1.0" ry="1.0" fill="#111"/>
<path d="M31.3 748.8C35.2 748.8 45.6 748.2 55.0 748.6C64.4 749.0 77.0 750.4 87.5 751.0C98.0 751.6 112.9 751.8 118.0 752.0"/>
<path d="M31.5 752.5C35.4 752.5 45.7 752.2 55.0 752.6C64.3 753.0 77.0 754.3 87.5 754.8C98.0 755.3 112.9 755.5 118.0 755.6" stroke-width="0.6"/>
<path d="M29.5 756.3C33.8 756.7 45.3 758.0 55.0 758.6C64.7 759.2 70.8 759.6 87.5 760.0C104.2 760.4 135.0 760.5 155.0 760.8C175.0 761.0 198.8 761.4 207.5 761.5"/>
<path d="M31.0 760.0C35.0 760.3 44.8 761.4 55.0 762.0C65.2 762.6 75.8 763.4 92.5 763.8C109.2 764.2 135.8 764.2 155.0 764.3C174.2 764.4 198.8 764.5 207.5 764.5" stroke-width="1.2"/>
<path d="M35.0 748.8L35.0 756.8" stroke-width="0.8"/>
<path d="M41.8 748.7L41.8 757.4" stroke-width="0.8"/>
<path d="M53.8 748.6L53.8 758.5" stroke-width="0.8"/>
<path d="M70.0 749.7L70.0 759.2" stroke-width="0.8"/>
<path d="M86.3 750.9L86.3 759.9" stroke-width="0.8"/>
<path d="M92.5 751.2L92.5 760.1" stroke-width="0.8"/>
<path d="M31.3 748.8L29.5 756.3"/>
<path d="M93.5 752.8L117.0 752.8L117.0 758.6L93.5 758.6Z" stroke-width="0.7"/>
<ellipse cx="97" cy="755.6" rx="1.3" ry="2" stroke-width="0.7"/>
<ellipse cx="101.5" cy="755.6" rx="1.3" ry="2" stroke-width="0.7"/>
<ellipse cx="106" cy="755.6" rx="1.3" ry="2" stroke-width="0.7"/>
<ellipse cx="110.5" cy="755.6" rx="1.3" ry="2" stroke-width="0.7"/>
<ellipse cx="114.5" cy="755.6" rx="1.3" ry="2" stroke-width="0.7"/>
<path d="M79.0 757.0L84.0 757.0L84.0 759.5L79.0 759.5Z" stroke-width="0.7"/>
<path d="M29.5 756.3C29.8 757.8 30.0 762.1 31.3 765.0C32.6 767.9 35.2 771.5 37.5 773.8C39.8 776.1 42.7 777.5 45.0 778.8C47.3 780.0 50.2 780.9 51.3 781.3"/>
<path d="M31.5 760.0C31.8 761.0 32.0 763.8 33.3 766.0C34.5 768.2 36.9 771.1 39.0 773.0C41.1 774.9 44.0 776.3 46.0 777.3C48.0 778.3 50.4 778.7 51.3 779.0" stroke-width="0.7"/>
<path d="M51.3 763.8L51.3 835.0" stroke-width="0.8"/>
<path d="M54.3 763.8L54.3 836.5" stroke-width="0.8"/>
<path d="M51.0 783.0C50.0 784.8 47.3 790.3 45.0 794.0C42.7 797.7 39.0 801.4 37.3 805.0C35.6 808.6 35.0 812.1 35.0 815.5C35.0 818.9 35.8 822.8 37.0 825.5C38.2 828.2 40.1 830.4 42.5 832.0C44.9 833.6 49.8 834.8 51.3 835.3"/>
<path d="M54.3 780.0C56.1 781.0 61.5 783.6 65.0 786.3C68.5 789.0 72.7 793.2 75.0 796.3C77.3 799.4 78.0 801.9 78.8 805.0C79.5 808.1 79.4 813.3 79.5 815.0"/>
<path d="M54.3 783.6C55.8 784.5 60.5 786.5 63.5 788.8C66.5 791.1 70.4 794.6 72.5 797.5C74.6 800.4 75.5 803.1 76.3 806.0C77.0 808.9 76.9 813.5 77.0 815.0"/>
<path d="M79.5 815.0L79.5 834.6"/>
<path d="M77.0 815.0L77.0 834.0" stroke-width="0.7"/>
<path d="M55.8 831.0C55.9 831.5 56.0 833.3 56.5 834.0C57.0 834.7 55.6 835.0 59.0 835.2C62.4 835.4 74.0 835.2 77.0 835.2" stroke-width="1.0"/>
<path d="M64.0 813.5C63.7 812.2 62.2 808.3 62.0 806.0C61.8 803.7 62.2 800.9 63.0 799.5C63.8 798.1 65.2 797.6 66.5 797.5C67.8 797.4 69.4 797.8 70.5 799.0C71.6 800.2 72.7 803.0 73.0 805.0C73.3 807.0 73.0 809.6 72.5 811.0C72.0 812.4 70.4 813.1 70.0 813.5"/>
<path d="M64.0 816.5C63.7 817.8 62.1 821.7 62.0 824.0C61.9 826.3 62.6 829.1 63.5 830.5C64.4 831.9 66.2 832.6 67.5 832.5C68.8 832.4 70.6 831.4 71.5 830.0C72.4 828.6 72.8 825.8 73.0 824.0C73.2 822.2 73.0 820.2 72.5 819.0C72.0 817.8 70.4 816.9 70.0 816.5"/>
<path d="M60.5 815.0C60.9 814.7 61.4 813.6 63.0 813.3C64.6 813.0 67.6 813.1 70.0 813.3C72.4 813.5 76.2 814.1 77.5 814.3" stroke-width="0.9"/>
<path d="M60.5 815.0C60.9 815.3 61.4 816.4 63.0 816.7C64.6 817.0 67.6 816.9 70.0 816.7C72.4 816.6 76.2 815.9 77.5 815.8" stroke-width="0.9"/>
<path d="M66.3 798.5L66.3 832.0" stroke-width="0.6"/>
<path d="M79.5 812.4L193.8 811.6" stroke-width="0.8"/>
<path d="M79.5 815.0L193.8 814.4" stroke-width="1.2"/>
<path d="M132.8 810.0L135.2 810.0L135.2 816.4L132.8 816.4Z" stroke-width="1.1"/>
<path d="M144.8 810.0L147.2 810.0L147.2 816.4L144.8 816.4Z" stroke-width="1.1"/>
<path d="M150.0 809.4L154.5 809.4L154.5 817.0L150.0 817.0Z" stroke-width="1.3"/>
<path d="M193.8 809.5L207.5 809.5L207.5 818.0L193.8 818.0Z"/>
<path d="M193.8 813.5L207.5 813.5" stroke-width="0.6"/>
<path d="M51.3 835.0C51.8 835.3 49.7 836.7 54.5 837.0C59.3 837.3 69.1 837.1 80.0 837.0C90.9 836.9 106.7 836.8 120.0 836.6C133.3 836.4 145.8 836.2 160.0 835.9C174.2 835.6 186.7 835.3 205.0 835.0C223.3 834.7 249.2 834.3 270.0 834.0C290.8 833.7 315.0 833.4 330.0 833.0C345.0 832.6 350.0 832.0 360.0 831.4C370.0 830.8 381.7 830.0 390.0 829.4C398.3 828.8 403.3 828.3 410.0 827.6C416.7 826.9 422.5 826.2 430.0 825.2C437.5 824.2 448.3 822.4 455.0 821.3C461.7 820.2 464.2 819.8 470.0 818.5C475.8 817.2 483.3 815.6 490.0 813.8C496.7 812.0 504.2 809.5 510.0 807.5C515.8 805.5 520.5 803.4 525.0 801.5C529.5 799.6 533.4 798.0 537.0 796.0C540.6 794.0 543.8 791.8 546.7 789.3C549.6 786.8 552.1 784.0 554.5 781.0C556.9 778.0 558.9 775.0 561.0 771.5C563.1 768.0 565.3 763.6 567.0 760.0C568.7 756.4 570.0 753.3 571.0 750.0C572.0 746.7 572.9 743.5 573.3 740.0C573.7 736.5 573.3 731.0 573.3 729.2" stroke-width="1.2"/>
<path d="M80.0 834.6C86.6 834.5 106.6 834.4 120.0 834.2C133.3 834.0 145.8 833.8 160.0 833.5C174.1 833.2 186.6 832.9 205.0 832.6C223.3 832.3 249.1 831.9 270.0 831.6C290.8 831.3 314.9 831.0 329.9 830.6C344.9 830.2 349.9 829.6 359.9 829.0C369.8 828.4 381.5 827.6 389.8 827.0C398.1 826.4 403.1 825.9 409.7 825.2C416.4 824.5 422.2 823.9 429.7 822.8C437.1 821.8 448.0 820.0 454.6 818.9C461.2 817.8 463.7 817.4 469.5 816.2C475.3 814.9 482.7 813.3 489.4 811.5C496.0 809.7 503.4 807.3 509.2 805.2C515.0 803.2 519.6 801.2 524.1 799.3C528.5 797.4 532.3 795.9 535.8 793.9C539.3 791.9 542.3 789.9 545.1 787.5C547.9 785.1 550.3 782.4 552.6 779.5C554.9 776.6 556.9 773.7 558.9 770.3C561.0 766.9 563.2 762.5 564.8 759.0C566.5 755.5 567.7 752.5 568.7 749.3C569.7 746.1 570.5 743.1 570.9 739.7C571.3 736.4 570.9 731.0 570.9 729.2" stroke-width="0.75"/>
<path d="M84.0 815.6C88.7 815.6 107.0 815.3 112.0 815.8C117.0 816.3 109.3 817.6 114.0 818.5C118.7 819.4 132.3 820.4 140.0 821.0C147.7 821.6 148.8 821.7 160.0 822.0C171.2 822.3 188.7 822.6 207.0 822.6C225.3 822.6 249.6 822.3 270.0 822.2C290.4 822.1 314.5 822.3 329.4 822.0C344.3 821.7 349.4 821.0 359.3 820.4C369.3 819.8 380.9 819.1 389.2 818.4C397.4 817.8 402.3 817.3 408.9 816.7C415.4 816.0 421.1 815.3 428.5 814.3C435.9 813.3 446.6 811.5 453.2 810.5C459.7 809.4 462.0 809.0 467.7 807.7C473.3 806.5 480.6 805.0 487.1 803.2C493.5 801.4 500.8 799.1 506.4 797.1C512.0 795.2 516.5 793.2 520.7 791.4C524.9 789.6 528.1 788.9 531.6 786.4C535.1 783.9 540.0 778.2 541.7 776.5" stroke-width="1.0"/>
<path d="M207.5 820.6C217.9 820.5 249.7 820.3 270.0 820.2C290.3 820.1 314.4 820.5 329.3 820.2C344.2 820.0 349.3 819.2 359.2 818.6C369.2 818.0 380.8 817.3 389.0 816.6C397.3 816.0 402.1 815.6 408.7 814.9C415.2 814.2 420.9 813.6 428.2 812.5C435.6 811.5 446.4 809.8 452.9 808.7C459.4 807.6 461.7 807.2 467.3 806.0C472.9 804.8 480.2 803.2 486.6 801.5C493.0 799.7 500.1 797.4 505.8 795.4C511.4 793.5 517.8 790.6 520.2 789.6" stroke-width="0.7"/>
<path d="M85.5 815.6V834.5M91.4 815.6V834.5M97.3 815.5V834.4M103.2 815.5V834.4M109.1 815.6V834.3M115.0 818.7V834.3M120.9 819.4V834.2M126.8 819.9V834.1M132.7 820.4V834.0M138.6 820.9V833.9M144.5 821.3V833.8M150.6 821.7V833.7M156.7 821.9V833.6M162.8 822.1V833.4M168.9 822.2V833.3M175.0 822.3V833.2M181.1 822.4V833.1M187.2 822.5V832.9M193.3 822.5V832.8M199.4 822.6V832.7M205.5 822.6V832.6M211.6 822.6V832.5M217.7 822.6V832.4M223.8 822.6V832.3M229.9 822.5V832.2M236.0 822.5V832.1M242.1 822.4V832.0M248.2 822.4V831.9M254.3 822.3V831.8M260.4 822.3V831.7M266.5 822.2V831.7M272.6 822.2V831.6M278.7 822.2V831.5M284.8 822.2V831.4M290.9 822.2V831.3M296.2 822.2V831.2M301.5 822.2V831.1M306.8 822.2V831.1M312.1 822.2V831.0M317.4 822.2V830.9M322.7 822.1V830.8M328.0 822.0V830.7M333.3 821.9V830.5M338.6 821.7V830.3M343.9 821.5V830.0M349.2 821.1V829.7M354.5 820.7V829.3M359.8 820.4V829.0M365.1 820.1V828.7M370.4 819.7V828.3M375.7 819.4V828.0M381.0 819.0V827.6M386.3 818.6V827.3M391.6 818.2V826.9M396.9 817.8V826.4M402.2 817.3V826.0M407.5 816.8V825.4M412.8 816.2V824.9M418.1 815.6V824.3M423.4 815.0V823.7M428.7 814.3V823.0M434.0 813.5V822.2M439.3 812.7V821.4M444.6 811.9V820.6M450.1 811.0V819.7M455.6 810.0V818.8M461.1 809.1V817.8M466.6 808.0V816.8M472.1 806.8V815.6M477.6 805.6V814.4M483.1 804.2V813.1M488.6 802.8V811.7M494.1 801.1V810.1M499.6 799.4V808.4M505.1 797.6V806.6M510.6 795.6V804.7M516.1 793.3V802.6M521.6 791.0V800.3M527.1 788.9V798.0M532.6 785.7V795.6M538.1 780.3V792.6" stroke-width="1.3"/>
<path d="M92.5 764.3L92.5 791.3"/>
<path d="M113.8 791.3L113.8 812.5"/>
<path d="M54.3 788.8L207.5 788.6" stroke-width="0.7"/>
<path d="M113.8 799.0L207.5 798.8"/>
<path d="M159.5 764.3L159.5 791.3"/>
<path d="M161.6 767.5L178.5 791.0" stroke-width="1.1"/>
<path d="M164.6 767.5L181.5 791.0" stroke-width="0.9"/>
<path d="M163.3 769.9L166.3 768.9" stroke-width="0.8"/>
<path d="M165.0 772.2L168.0 771.2" stroke-width="0.8"/>
<path d="M166.7 774.5L169.7 773.5" stroke-width="0.8"/>
<path d="M168.4 776.9L171.4 775.9" stroke-width="0.8"/>
<path d="M170.0 779.2L173.0 778.2" stroke-width="0.8"/>
<path d="M171.7 781.6L174.7 780.6" stroke-width="0.8"/>
<path d="M173.4 784.0L176.4 783.0" stroke-width="0.8"/>
<path d="M175.1 786.3L178.1 785.3" stroke-width="0.8"/>
<path d="M176.8 788.6L179.8 787.6" stroke-width="0.8"/>
<path d="M117.6 764.0L117.6 736.6L208.0 736.6" stroke-width="1.2"/>
<path d="M117.6 738.6L208.0 738.6" stroke-width="0.8"/>
<path d="M117.6 752.0L200.0 752.0" stroke-width="1.1"/>
<path d="M120.0 762.0L198.0 762.0" stroke-width="0.7" stroke-dasharray="2 1.5"/>
<path d="M121.0 740.6L127.0 740.6L127.0 748.0L121.0 748.0Z" stroke-width="1.0"/>
<path d="M121.0 740.6L126.0 740.6L121.0 746.5Z" stroke-width="0.5" fill="#111"/>
<path d="M130.0 740.6L136.0 740.6L136.0 748.0L130.0 748.0Z" stroke-width="1.0"/>
<path d="M130.0 740.6L135.0 740.6L130.0 746.5Z" stroke-width="0.5" fill="#111"/>
<path d="M139.0 740.6L145.0 740.6L145.0 748.0L139.0 748.0Z" stroke-width="1.0"/>
<path d="M139.0 740.6L144.0 740.6L139.0 746.5Z" stroke-width="0.5" fill="#111"/>
<path d="M156.4 740.6L162.4 740.6L162.4 748.0L156.4 748.0Z" stroke-width="1.0"/>
<path d="M156.4 740.6L161.4 740.6L156.4 746.5Z" stroke-width="0.5" fill="#111"/>
<path d="M165.0 740.6L171.0 740.6L171.0 748.0L165.0 748.0Z" stroke-width="1.0"/>
<path d="M165.0 740.6L170.0 740.6L165.0 746.5Z" stroke-width="0.5" fill="#111"/>
<path d="M173.6 740.6L179.6 740.6L179.6 748.0L173.6 748.0Z" stroke-width="1.0"/>
<path d="M173.6 740.6L178.6 740.6L173.6 746.5Z" stroke-width="0.5" fill="#111"/>
<path d="M182.0 740.6L188.0 740.6L188.0 748.0L182.0 748.0Z" stroke-width="1.0"/>
<path d="M182.0 740.6L187.0 740.6L182.0 746.5Z" stroke-width="0.5" fill="#111"/>
<path d="M199.6 740.6L206.0 740.6L206.0 748.0L199.6 748.0Z" stroke-width="1.0"/>
<path d="M199.6 740.6L205.0 740.6L199.6 746.5Z" stroke-width="0.5" fill="#111"/>
<path d="M148.0 740.6L154.0 740.6L154.0 764.0L148.0 764.0Z" stroke-width="0.9"/>
<path d="M128.0 752.0L128.0 763.5" stroke-width="0.7"/>
<path d="M139.0 752.0L139.0 763.5" stroke-width="0.7"/>
<path d="M143.0 752.0L143.0 763.5" stroke-width="0.7"/>
<path d="M146.0 752.0L146.0 763.5" stroke-width="0.7"/>
<path d="M157.0 752.0L157.0 763.5" stroke-width="0.7"/>
<path d="M160.0 752.0L160.0 763.5" stroke-width="0.7"/>
<path d="M170.0 752.0L170.0 763.5" stroke-width="0.7"/>
<path d="M173.0 752.0L173.0 763.5" stroke-width="0.7"/>
<path d="M190.0 752.0L190.0 763.5" stroke-width="0.7"/>
<path d="M198.0 752.0L198.0 763.5" stroke-width="0.7"/>
<path d="M129.0 738.6L129.0 752.0" stroke-width="0.6"/>
<path d="M138.0 738.6L138.0 752.0" stroke-width="0.6"/>
<path d="M155.0 738.6L155.0 752.0" stroke-width="0.6"/>
<path d="M164.0 738.6L164.0 752.0" stroke-width="0.6"/>
<path d="M172.6 738.6L172.6 752.0" stroke-width="0.6"/>
<path d="M181.0 738.6L181.0 752.0" stroke-width="0.6"/>
<path d="M190.5 738.6L190.5 752.0" stroke-width="0.6"/>
<path d="M196.0 738.6L196.0 752.0" stroke-width="0.6"/>
<path d="M208.0 741.0L198.0 764.0"/>
<path d="M205.5 741.0L195.5 764.0" stroke-width="0.7"/>
<path d="M199.0 755.0L204.0 755.0" stroke-width="0.6"/>
<path d="M197.5 759.0L202.0 759.0" stroke-width="0.6"/>
<path d="M207.5 732.0L207.5 820.0"/>
<path d="M207.5 742.6L343.0 742.6"/>
<path d="M212.5 736.3L337.0 735.2"/>
<path d="M212.5 739.2L337.0 738.4" stroke-width="0.6"/>
<path d="M231.0 735.5L231.0 742.6" stroke-width="0.9"/>
<path d="M247.0 735.5L247.0 742.6" stroke-width="0.9"/>
<path d="M261.0 735.5L261.0 742.6" stroke-width="0.9"/>
<path d="M277.0 735.5L277.0 742.6" stroke-width="0.9"/>
<path d="M293.0 735.5L293.0 742.6" stroke-width="0.9"/>
<path d="M197.5 731.0L212.5 731.0L212.5 733.3L197.5 733.3Z" stroke-width="1.2"/>
<ellipse cx="199" cy="731.5" rx="1.3" ry="1.3"/>
<path d="M187.4 543.5L207.6 732.0" stroke-width="0.75"/>
<path d="M189.3 543.5L212.4 732.0" stroke-width="0.75"/>
<path d="M186.9 542.6L189.7 542.6L189.7 544.2L186.9 544.2Z" stroke-width="0.8"/>
<path d="M137.3 599.6L197.6 640.2" stroke-width="0.7"/>
<path d="M138.2 598.3L198.3 638.8" stroke-width="0.7"/>
<path d="M140.0 600.0L190.0 586.7" stroke-width="0.7"/>
<path d="M189.3 585.5L191.8 585.5L191.8 588.2L189.3 588.2Z" stroke-width="0.7"/>
<path d="M197.0 638.0L199.5 638.0L199.5 641.5L197.0 641.5Z" stroke-width="0.7"/>
<path d="M230.0 735.0C230.0 733.5 229.5 728.3 230.0 726.0C230.5 723.7 231.3 722.5 233.0 721.0C234.7 719.5 238.8 717.7 240.0 717.0" stroke-width="1.2"/>
<path d="M283.0 715.0C283.8 715.4 286.7 716.3 288.0 717.5C289.3 718.7 290.3 720.2 291.0 722.0C291.7 723.8 292.2 726.0 292.0 728.0C291.8 730.0 290.3 733.0 290.0 734.0" stroke-width="1.2"/>
<path d="M231.0 725.0C233.3 725.5 239.8 727.3 245.0 728.0C250.2 728.7 256.2 729.1 262.0 729.0C267.8 728.9 275.2 728.4 280.0 727.6C284.8 726.8 289.2 724.6 291.0 724.0"/>
<path d="M231.0 726.6C233.3 727.1 239.8 728.9 245.0 729.6C250.2 730.3 256.2 730.7 262.0 730.6C267.8 730.5 275.2 730.0 280.0 729.2C284.8 728.4 289.2 726.2 291.0 725.6" stroke-width="0.6"/>
<path d="M231.0 725.0C231.3 725.8 232.0 728.7 233.0 730.0C234.0 731.3 232.2 732.0 237.0 732.6C241.8 733.2 254.0 733.5 262.0 733.6C270.0 733.7 280.3 733.6 285.0 733.0C289.7 732.4 288.8 731.2 290.0 730.0C291.2 728.8 291.7 726.7 292.0 726.0"/>
<path d="M274.0 745.5L275.5 744.0L279.5 744.0L281.0 745.5L281.0 762.5L279.5 764.0L275.5 764.0L274.0 762.5L274.0 745.5"/>
<path d="M216.3 760.0L269.5 760.0L269.5 777.0L216.3 777.0Z" stroke-width="1.2"/>
<path d="M216.8 757.5L219.5 757.5L219.5 760.0L216.8 760.0Z"/>
<path d="M230.0 757.3L234.5 757.3L234.5 760.0L230.0 760.0Z" stroke-width="1.2"/>
<path d="M249.0 757.0L253.5 757.0L253.5 760.0L249.0 760.0Z" stroke-width="1.2"/>
<path d="M207.5 761.0L343.0 759.0" stroke-width="0.9" stroke-dasharray="3 1 1 1"/>
<path d="M207.5 773.5L343.0 772.5" stroke-width="0.9" stroke-dasharray="3 1 1 1"/>
<path d="M216.3 774.0L269.5 774.0" stroke-width="0.6"/>
<path d="M230.0 777.5L225.0 812.5"/>
<path d="M232.0 777.5L227.5 812.5" stroke-width="0.6"/>
<path d="M253.0 777.5L258.8 812.5"/>
<path d="M251.0 777.5L256.3 812.5" stroke-width="0.6"/>
<path d="M221.3 777.5L221.3 812.5" stroke-width="0.8"/>
<path d="M223.8 777.5L223.8 812.5" stroke-width="0.6"/>
<path d="M231.3 781.3L252.5 781.3L251.5 787.5L232.3 787.5L231.3 781.3"/>
<path d="M229.5 815.0C229.7 812.7 229.5 804.5 230.5 801.0C231.5 797.5 233.5 795.5 235.5 794.0C237.5 792.5 240.2 792.0 242.5 792.0C244.8 792.0 247.5 792.5 249.5 794.0C251.5 795.5 253.5 797.5 254.5 801.0C255.5 804.5 255.3 812.7 255.5 815.0"/>
<path d="M233.0 815.0C233.2 813.0 233.2 805.9 234.0 803.0C234.8 800.1 236.6 798.8 238.0 797.5C239.4 796.2 241.0 795.5 242.5 795.5C244.0 795.5 245.6 796.2 247.0 797.5C248.4 798.8 250.2 800.1 251.0 803.0C251.8 805.9 251.8 813.0 252.0 815.0" stroke-width="0.8"/>
<path d="M217.5 812.5L217.5 801.3L225.5 801.3"/>
<path d="M257.5 798.8L270.0 798.8L270.0 820.0"/>
<path d="M257.5 803.0L270.0 803.0" stroke-width="0.6"/>
<path d="M236.0 808.0L247.0 808.0L247.0 812.5L236.0 812.5Z" stroke-width="0.8"/>
<path d="M207.5 812.5L270.0 812.5" stroke-width="1.2"/>
<path d="M207.5 816.0L270.0 816.0" stroke-width="0.7"/>
<path d="M213.0 812.5L213.0 820.0" stroke-width="0.6"/>
<path d="M222.0 812.5L222.0 820.0" stroke-width="0.6"/>
<path d="M232.0 812.5L232.0 820.0" stroke-width="0.6"/>
<path d="M242.0 812.5L242.0 820.0" stroke-width="0.6"/>
<path d="M252.0 812.5L252.0 820.0" stroke-width="0.6"/>
<path d="M262.0 812.5L262.0 820.0" stroke-width="0.6"/>
<path d="M288.0 777.5L288.0 820.0"/>
<path d="M288.0 777.5L343.0 777.5" stroke-width="0.6"/>
<path d="M287.5 775.0L287.5 818.0L325.0 818.0L325.0 801.3"/>
<path d="M287.5 775.0L307.5 775.0"/>
<path d="M310.0 778.0L291.6 676.4L318.0 671.8L322.0 688.0L337.0 765.0"/>
<path d="M291.9 678.0L318.3 673.4" stroke-width="0.7"/>
<path d="M290.0 691.0L323.0 685.2"/>
<path d="M290.3 692.6L323.3 686.8" stroke-width="0.7"/>
<path d="M290.0 691.0L296.0 742.6" stroke-width="0.8"/>
<path d="M292.0 690.6L298.3 742.6" stroke-width="0.8"/>
<path d="M290.5 695.3L292.5 694.9" stroke-width="0.5"/>
<path d="M291.0 699.6L293.1 699.3" stroke-width="0.5"/>
<path d="M291.5 703.9L293.6 703.6" stroke-width="0.5"/>
<path d="M292.0 708.2L294.1 707.9" stroke-width="0.5"/>
<path d="M292.5 712.5L294.6 712.3" stroke-width="0.5"/>
<path d="M293.0 716.8L295.1 716.6" stroke-width="0.5"/>
<path d="M293.5 721.1L295.7 720.9" stroke-width="0.5"/>
<path d="M294.0 725.4L296.2 725.3" stroke-width="0.5"/>
<path d="M294.5 729.7L296.7 729.6" stroke-width="0.5"/>
<path d="M295.0 734.0L297.2 733.9" stroke-width="0.5"/>
<path d="M295.5 738.3L297.8 738.3" stroke-width="0.5"/>
<path d="M323.0 685.2L333.0 742.6" stroke-width="0.8"/>
<path d="M325.3 690.0L335.0 742.6" stroke-width="0.6"/>
<path d="M301.0 694.0L293.0 714.0" stroke-width="0.7"/>
<path d="M318.0 690.0L330.0 715.0" stroke-width="0.7"/>
<path d="M299.0 693.0L312.0 742.0" stroke-width="0.6"/>
<path d="M307.5 775.0L319.0 801.3L330.0 801.3L336.0 789.0L336.0 765.0"/>
<path d="M309.5 749.5L325.5 749.5L325.5 758.5L309.5 758.5Z" stroke-width="0.9"/>
<path d="M309.5 749.5L325.5 758.5" stroke-width="0.7"/>
<path d="M325.5 749.5L309.5 758.5" stroke-width="0.7"/>
<path d="M309.5 758.5L325.5 758.5L325.5 772.0L309.5 772.0Z" stroke-width="0.7" stroke-dasharray="2 1.2"/>
<path d="M309.5 758.5L325.5 772.0" stroke-width="0.7" stroke-dasharray="2 1.2"/>
<path d="M325.5 758.5L309.5 772.0" stroke-width="0.7" stroke-dasharray="2 1.2"/>
<path d="M337.0 787.0L337.0 714.0L338.0 709.0L341.0 705.0L344.0 703.0"/>
<path d="M341.8 787.0L341.8 716.0L343.0 711.0L345.0 708.0"/>
<path d="M337.0 787.0L341.8 787.0"/>
<path d="M344.0 703.0L345.0 708.0"/>
<path d="M343.0 740.0L343.0 715.0L406.0 715.0L406.0 768.0"/>
<path d="M343.0 740.0L416.0 740.0"/>
<path d="M343.0 716.6L406.0 716.6" stroke-width="0.6"/>
<path d="M347.0 718.3L351.0 718.3L351.0 725.6L347.0 725.6Z" stroke-width="1.1"/>
<path d="M347.0 728.0L351.0 728.0L351.0 736.0L347.0 736.0Z" stroke-width="1.1"/>
<path d="M353.5 718.3L359.0 718.3L359.0 725.6L353.5 725.6Z" stroke-width="1.1"/>
<path d="M353.5 728.0L359.0 728.0L359.0 736.0L353.5 736.0Z" stroke-width="1.1"/>
<path d="M362.0 718.3L368.0 718.3L368.0 725.6L362.0 725.6Z" stroke-width="1.1"/>
<path d="M362.0 728.0L368.0 728.0L368.0 736.0L362.0 736.0Z" stroke-width="1.1"/>
<path d="M372.0 718.3L378.0 718.3L378.0 725.6L372.0 725.6Z" stroke-width="1.1"/>
<path d="M372.0 728.0L378.0 728.0L378.0 736.0L372.0 736.0Z" stroke-width="1.1"/>
<path d="M380.0 718.3L386.0 718.3L386.0 725.6L380.0 725.6Z" stroke-width="1.1"/>
<path d="M380.0 728.0L386.0 728.0L386.0 736.0L380.0 736.0Z" stroke-width="1.1"/>
<path d="M390.0 718.3L395.0 718.3L395.0 725.6L390.0 725.6Z" stroke-width="1.1"/>
<path d="M390.0 728.0L395.0 728.0L395.0 736.0L390.0 736.0Z" stroke-width="1.1"/>
<path d="M398.0 718.3L403.0 718.3L403.0 725.6L398.0 725.6Z" stroke-width="1.1"/>
<path d="M398.0 728.0L403.0 728.0L403.0 736.0L398.0 736.0Z" stroke-width="1.1"/>
<path d="M343.0 727.0L406.0 727.0" stroke-width="0.5"/>
<path d="M331.0 701.0C331.3 700.5 332.2 699.0 333.0 698.3C333.8 697.6 335.0 697.2 336.0 697.0C337.0 696.8 338.5 697.0 339.0 697.0" stroke-width="1.2"/>
<path d="M385.0 694.0C385.8 694.1 388.5 694.1 390.0 694.6C391.5 695.1 393.2 696.1 394.0 697.0C394.8 697.9 394.8 697.8 395.0 700.0C395.2 702.2 395.0 708.3 395.0 710.0" stroke-width="1.2"/>
<path d="M331.0 705.0C332.2 705.0 335.8 704.8 338.0 705.0C340.2 705.2 341.0 705.6 344.0 706.3C347.0 707.0 351.7 708.5 356.0 709.0C360.3 709.5 365.3 709.9 370.0 709.6C374.7 709.3 379.8 708.3 384.0 707.0C388.2 705.7 393.2 702.8 395.0 702.0"/>
<path d="M344.0 708.0C346.0 708.4 351.7 710.1 356.0 710.6C360.3 711.1 365.3 711.5 370.0 711.2C374.7 710.9 379.8 709.9 384.0 708.6C388.2 707.3 393.2 704.4 395.0 703.6" stroke-width="0.6"/>
<path d="M344.0 706.3C344.2 707.0 344.3 709.5 345.0 710.5C345.7 711.5 343.8 712.1 348.0 712.6C352.2 713.1 363.3 713.5 370.0 713.6C376.7 713.7 384.2 713.5 388.0 713.0C391.8 712.5 391.3 711.8 392.5 710.5C393.7 709.2 394.6 705.9 395.0 705.0"/>
<path d="M343.0 715.0L398.0 714.2" stroke-width="0.8"/>
<path d="M344.3 769.0L344.3 748.5"/>
<path d="M355.0 748.5L355.0 769.0"/>
<path d="M344.3 748.5C344.5 748.0 344.6 746.1 345.5 745.3C346.4 744.5 348.2 743.6 349.6 743.6C351.0 743.6 352.9 744.5 353.8 745.3C354.7 746.1 354.8 748.0 355.0 748.5"/>
<path d="M344.3 769.0L355.0 769.0" stroke-width="0.7"/>
<path d="M358.0 742.0L378.0 768.0" stroke-width="1.2"/>
<path d="M361.4 742.0L381.4 768.0" stroke-width="1.0"/>
<path d="M359.5 744.0L362.9 742.4" stroke-width="0.9"/>
<path d="M361.1 746.0L364.5 744.4" stroke-width="0.9"/>
<path d="M362.6 748.0L366.0 746.4" stroke-width="0.9"/>
<path d="M364.2 750.0L367.6 748.4" stroke-width="0.9"/>
<path d="M365.7 752.0L369.1 750.4" stroke-width="0.9"/>
<path d="M367.2 754.0L370.6 752.4" stroke-width="0.9"/>
<path d="M368.8 756.0L372.2 754.4" stroke-width="0.9"/>
<path d="M370.3 758.0L373.7 756.4" stroke-width="0.9"/>
<path d="M371.8 760.0L375.2 758.4" stroke-width="0.9"/>
<path d="M373.4 762.0L376.8 760.4" stroke-width="0.9"/>
<path d="M374.9 764.0L378.3 762.4" stroke-width="0.9"/>
<path d="M376.5 766.0L379.9 764.4" stroke-width="0.9"/>
<path d="M389.0 773.0L410.0 800.0" stroke-width="1.2"/>
<path d="M392.6 773.0L413.6 800.0" stroke-width="1.0"/>
<path d="M390.6 775.1L394.2 773.5" stroke-width="0.9"/>
<path d="M392.2 777.2L395.8 775.6" stroke-width="0.9"/>
<path d="M393.8 779.2L397.4 777.6" stroke-width="0.9"/>
<path d="M395.5 781.3L399.1 779.7" stroke-width="0.9"/>
<path d="M397.1 783.4L400.7 781.8" stroke-width="0.9"/>
<path d="M398.7 785.5L402.3 783.9" stroke-width="0.9"/>
<path d="M400.3 787.5L403.9 785.9" stroke-width="0.9"/>
<path d="M401.9 789.6L405.5 788.0" stroke-width="0.9"/>
<path d="M403.5 791.7L407.1 790.1" stroke-width="0.9"/>
<path d="M405.2 793.8L408.8 792.2" stroke-width="0.9"/>
<path d="M406.8 795.8L410.4 794.2" stroke-width="0.9"/>
<path d="M408.4 797.9L412.0 796.3" stroke-width="0.9"/>
<path d="M367.5 785.0L380.0 800.0" stroke-width="1.2"/>
<path d="M370.9 785.0L383.4 800.0" stroke-width="1.0"/>
<path d="M369.1 786.9L372.5 785.3" stroke-width="0.9"/>
<path d="M370.6 788.8L374.0 787.1" stroke-width="0.9"/>
<path d="M372.2 790.6L375.6 789.0" stroke-width="0.9"/>
<path d="M373.8 792.5L377.1 790.9" stroke-width="0.9"/>
<path d="M375.3 794.4L378.7 792.8" stroke-width="0.9"/>
<path d="M376.9 796.2L380.3 794.6" stroke-width="0.9"/>
<path d="M378.4 798.1L381.8 796.5" stroke-width="0.9"/>
<path d="M483.8 790.0L498.8 747.5" stroke-width="1.2"/>
<path d="M488.8 790.0L503.8 747.5" stroke-width="1.0"/>
<path d="M358.0 771.5L367.5 771.5L367.5 785.0L358.0 785.0Z" stroke-width="0.8"/>
<path d="M358.0 773.5L367.5 773.5" stroke-width="0.7"/>
<path d="M358.0 775.4L367.5 775.4" stroke-width="0.7"/>
<path d="M358.0 777.4L367.5 777.4" stroke-width="0.7"/>
<path d="M358.0 779.3L367.5 779.3" stroke-width="0.7"/>
<path d="M358.0 781.2L367.5 781.2" stroke-width="0.7"/>
<path d="M358.0 783.2L367.5 783.2" stroke-width="0.7"/>
<path d="M343.0 757.5L406.0 756.8" stroke-width="0.8" stroke-dasharray="3 1 1 1"/>
<path d="M367.5 768.8L440.0 765.5"/>
<path d="M357.5 740.0L357.5 817.5" stroke-width="0.8" stroke-dasharray="5 1.5"/>
<path d="M367.5 768.8L367.5 785.0"/>
<path d="M380.0 740.0L380.0 768.0" stroke-width="0.6" stroke-dasharray="2 1.5"/>
<path d="M387.0 740.0L387.0 768.0" stroke-width="0.7" stroke-dasharray="5 1.2 1 1.2"/>
<path d="M380.0 800.0L484.0 790.3"/>
<path d="M380.0 801.6L484.0 791.9" stroke-width="0.6"/>
<path d="M395.0 797.5L395.0 816.5"/>
<path d="M415.0 768.8L415.0 796.5"/>
<path d="M325.0 817.5L357.5 817.5" stroke-width="0.7"/>
<path d="M288.0 788.8L358.0 788.8" stroke-width="0.5"/>
<path d="M414.0 739.0C413.3 739.2 411.1 739.7 410.0 740.5C408.9 741.3 407.8 742.8 407.3 744.0C406.8 745.2 406.7 746.7 407.0 748.0C407.3 749.3 407.8 750.8 409.0 751.6C410.2 752.4 413.2 752.8 414.0 753.0"/>
<path d="M414.0 739.0L414.0 753.0"/>
<path d="M416.0 740.0L416.0 752.5" stroke-width="0.6"/>
<path d="M398.4 554.2L413.3 700.0L425.8 811.0" stroke-width="0.75"/>
<path d="M400.1 554.2L418.3 700.0L431.6 810.3" stroke-width="0.75"/>
<path d="M398.0 553.0L400.5 553.0L400.5 554.6L398.0 554.6Z" stroke-width="0.8"/>
<path d="M352.5 588.2L406.5 623.0" stroke-width="0.7"/>
<path d="M353.3 586.9L407.2 621.6" stroke-width="0.7"/>
<path d="M356.5 589.5L398.5 578.0" stroke-width="0.7"/>
<path d="M398.5 576.6L401.0 576.6L401.0 579.4L398.5 579.4Z" stroke-width="0.7"/>
<path d="M405.6 621.0L408.0 621.0L408.0 624.5L405.6 624.5Z" stroke-width="0.7"/>
<path d="M406.0 730.6C408.0 730.7 414.0 731.5 418.0 731.4C422.0 731.3 425.7 730.1 430.0 730.0C434.3 729.9 439.0 731.2 444.0 731.0C449.0 730.8 454.7 728.9 460.0 728.6C465.3 728.4 470.6 729.8 476.0 729.5C481.4 729.2 489.8 727.4 492.5 727.0" stroke-width="0.9"/>
<path d="M406.0 734.5C408.0 734.6 414.0 735.3 418.0 735.2C422.0 735.1 425.7 733.9 430.0 733.8C434.3 733.7 439.0 734.9 444.0 734.7C449.0 734.5 454.7 732.6 460.0 732.4C465.3 732.1 470.6 733.5 476.0 733.2C481.4 732.9 489.8 731.0 492.5 730.6" stroke-width="0.6"/>
<path d="M406.0 739.3L492.5 736.3"/>
<path d="M406.0 741.0L492.5 738.0" stroke-width="0.6"/>
<path d="M418.0 730.0L418.0 738.6" stroke-width="0.8"/>
<path d="M430.0 730.0L430.0 738.6" stroke-width="0.8"/>
<path d="M444.0 730.0L444.0 738.6" stroke-width="0.8"/>
<path d="M460.0 730.0L460.0 738.6" stroke-width="0.8"/>
<path d="M476.0 730.0L476.0 738.6" stroke-width="0.8"/>
<path d="M492.5 727.0L497.0 733.0L505.0 743.8"/>
<path d="M492.5 736.3C493.2 736.6 495.7 737.1 497.0 738.0C498.3 738.9 499.6 740.0 500.5 741.5C501.4 743.0 502.2 746.1 502.5 747.0"/>
<path d="M494.0 736.3C494.8 736.6 497.2 737.3 498.5 738.3C499.8 739.2 501.1 740.5 502.0 742.0C502.9 743.5 503.7 746.2 504.0 747.0" stroke-width="0.6"/>
<path d="M505.0 741.3L573.0 735.0" stroke-width="1.1"/>
<path d="M505.0 743.0L573.0 736.8" stroke-width="0.6"/>
<path d="M507.5 736.3C511.2 735.8 522.1 734.2 530.0 733.6C537.9 733.0 550.8 732.7 555.0 732.5" stroke-width="0.8"/>
<path d="M510.0 735.4L510.0 740.3" stroke-width="0.7"/>
<path d="M519.0 734.8L519.0 739.5" stroke-width="0.7"/>
<path d="M548.0 732.8L548.0 736.9" stroke-width="0.7"/>
<path d="M502.5 747.0L541.3 746.6"/>
<path d="M520.0 746.6L520.0 772.5"/>
<path d="M541.3 746.6L541.3 777.5"/>
<ellipse cx="528" cy="750.8" rx="1.5" ry="1.5"/>
<ellipse cx="535" cy="750.8" rx="1.5" ry="1.5"/>
<ellipse cx="546.3" cy="749.3" rx="1.5" ry="1.5"/>
<ellipse cx="564.5" cy="747" rx="1.3" ry="1.3"/>
<path d="M520.0 737.4L540.0 737.4L540.0 741.6L520.0 741.6Z" stroke-width="1.4"/>
<path d="M523.0 733.6L528.0 733.6L528.0 737.4L523.0 737.4Z" stroke-width="1.4"/>
<ellipse cx="532" cy="735.5" rx="2.3" ry="2.3" stroke-width="1.5"/>
<path d="M535.0 734.0L539.0 734.0L539.0 737.4L535.0 737.4Z" stroke-width="1.3"/>
<path d="M520.0 739.6L556.0 739.6" stroke-width="1.6" stroke-dasharray="1.5 1"/>
<path d="M532.7 714.6L556.0 723.7" stroke-width="1.9"/>
<path d="M556.0 723.7L556.0 733.7" stroke-width="1.0"/>
<path d="M557.8 724.2L557.8 733.7" stroke-width="1.0"/>
<path d="M533.3 715.6L553.3 734.3" stroke-width="0.8"/>
<ellipse cx="532.9" cy="714.4" rx="0.9" ry="0.9" fill="#111"/>
<ellipse cx="562" cy="733.5" rx="1.1" ry="1.1" stroke-width="0.9"/>
<ellipse cx="565.4" cy="733.5" rx="1.1" ry="1.1" stroke-width="0.9"/>
<ellipse cx="568.8" cy="733.5" rx="1.1" ry="1.1" stroke-width="0.9"/>
<path d="M557.8 733.8L572.5 731.2" stroke-width="0.9"/>
<path d="M540.0 741.0L556.0 741.0" stroke-width="1.8" stroke-dasharray="2 0.8"/>
<path d="M556.0 741.0L563.0 746.3" stroke-width="1.3" stroke-dasharray="2 0.8"/>
<path d="M406.0 757.8L490.0 750.0"/>
<path d="M406.0 759.3L490.0 751.5" stroke-width="0.6"/>
<path d="M406.0 768.2L490.0 761.3"/>
<path d="M445.0 755.5L453.8 755.5L453.8 762.0L445.0 762.0Z" stroke-width="0.8"/>
<path d="M445.0 755.5L453.8 762.0" stroke-width="0.6"/>
<path d="M453.8 755.5L445.0 762.0" stroke-width="0.6"/>
<path d="M456.3 754.6L465.0 754.6L465.0 761.2L456.3 761.2Z" stroke-width="0.8"/>
<path d="M456.3 754.6L465.0 761.2" stroke-width="0.6"/>
<path d="M465.0 754.6L456.3 761.2" stroke-width="0.6"/>
<path d="M455.0 738.2L455.0 753.6"/>
<path d="M492.5 776.3L555.0 768.8"/>
<path d="M492.5 778.0L554.0 770.6" stroke-width="0.6"/>
<path d="M492.5 776.3L492.5 797.5"/>
<path d="M496.0 755.0L500.5 755.0" stroke-width="0.6"/>
<path d="M494.5 759.0L499.0 759.0" stroke-width="0.6"/>
<path d="M493.0 763.0L497.5 763.0" stroke-width="0.6"/>
<path d="M491.5 767.0L496.0 767.0" stroke-width="0.6"/>
</g></svg></body></html>
